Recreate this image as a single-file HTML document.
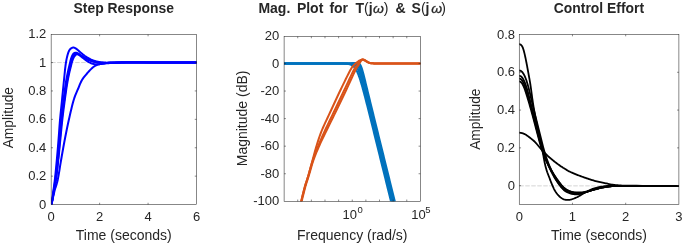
<!DOCTYPE html>
<html><head><meta charset="utf-8"><style>
html,body{margin:0;padding:0;background:#fff;width:685px;height:246px;overflow:hidden}
svg{display:block}
#w{will-change:transform}
text{font-family:"Liberation Sans",sans-serif}
</style></head><body><div id="w">
<svg width="685" height="246" viewBox="0 0 685 246" font-family="'Liberation Sans', sans-serif">
<defs>
<clipPath id="c1"><rect x="51.15" y="34.5" width="145.40" height="170.05"/></clipPath>
<clipPath id="c2"><rect x="284.1" y="36.45" width="136.30" height="164.90"/></clipPath>
<clipPath id="c3"><rect x="519.25" y="34.5" width="159.65" height="170.05"/></clipPath>
</defs>
<rect width="685" height="246" fill="#fff"/>
<line x1="51.15" y1="62.55" x2="196.55" y2="62.55" stroke="#d0d0d0" stroke-width="0.9" stroke-dasharray="4.5,1.5"/>
<text x="123.75000000000001" y="13.4" font-size="13.9" text-anchor="middle" font-weight="bold" fill="#262626" >Step Response</text>
<text x="123.75000000000001" y="240" font-size="14" text-anchor="middle" font-weight="normal" fill="#262626" >Time (seconds)</text>
<text x="0" y="0" font-size="13.8" text-anchor="middle" font-weight="normal" fill="#262626" transform="translate(13.3,117.7) rotate(-90)">Amplitude</text>
<text x="46.3" y="208.65" font-size="13" text-anchor="end" font-weight="normal" fill="#262626" >0</text>
<text x="46.3" y="180.25" font-size="13" text-anchor="end" font-weight="normal" fill="#262626" >0.2</text>
<text x="46.3" y="151.85" font-size="13" text-anchor="end" font-weight="normal" fill="#262626" >0.4</text>
<text x="46.3" y="123.45" font-size="13" text-anchor="end" font-weight="normal" fill="#262626" >0.6</text>
<text x="46.3" y="95.05" font-size="13" text-anchor="end" font-weight="normal" fill="#262626" >0.8</text>
<text x="46.3" y="66.65" font-size="13" text-anchor="end" font-weight="normal" fill="#262626" >1</text>
<text x="46.3" y="38.25000000000001" font-size="13" text-anchor="end" font-weight="normal" fill="#262626" >1.2</text>
<text x="51.15" y="221" font-size="13" text-anchor="middle" font-weight="normal" fill="#262626" >0</text>
<text x="99.61666666666667" y="221" font-size="13" text-anchor="middle" font-weight="normal" fill="#262626" >2</text>
<text x="148.08333333333334" y="221" font-size="13" text-anchor="middle" font-weight="normal" fill="#262626" >4</text>
<text x="196.55" y="221" font-size="13" text-anchor="middle" font-weight="normal" fill="#262626" >6</text>
<text x="0" y="0" font-size="14" text-anchor="middle" font-weight="normal" fill="#262626" transform="translate(246.8,118.4) rotate(-90)">Magnitude (dB)</text>
<text x="352.25" y="240" font-size="14" text-anchor="middle" font-weight="normal" fill="#262626" >Frequency (rad/s)</text>
<text x="279.3" y="40.04" font-size="13" text-anchor="end" font-weight="normal" fill="#262626" >20</text>
<text x="279.3" y="67.6" font-size="13" text-anchor="end" font-weight="normal" fill="#262626" >0</text>
<text x="279.3" y="95.16" font-size="13" text-anchor="end" font-weight="normal" fill="#262626" >-20</text>
<text x="279.3" y="122.72" font-size="13" text-anchor="end" font-weight="normal" fill="#262626" >-40</text>
<text x="279.3" y="150.28" font-size="13" text-anchor="end" font-weight="normal" fill="#262626" >-60</text>
<text x="279.3" y="177.84" font-size="13" text-anchor="end" font-weight="normal" fill="#262626" >-80</text>
<text x="279.3" y="205.39999999999998" font-size="13" text-anchor="end" font-weight="normal" fill="#262626" >-100</text>
<text x="352.65" y="219" font-size="13" text-anchor="middle" font-weight="normal" fill="#262626" >10<tspan font-size="9.5" dy="-6" dx="0.6">0</tspan></text>
<text x="420.79999999999995" y="219" font-size="13" text-anchor="middle" font-weight="normal" fill="#262626" >10<tspan font-size="9.5" dy="-6" dx="-0.5">5</tspan></text>
<text transform="translate(373.0,12.9) scale(1.0,0.86)" font-size="14" font-style="italic" fill="#262626" stroke="#262626" stroke-width="0.3">ω</text>
<text x="388.3" y="13.4" font-size="14" text-anchor="end" font-weight="normal" fill="#262626" >)</text>
<text transform="translate(431.3,12.9) scale(1.0,0.86)" font-size="14" font-style="italic" fill="#262626" stroke="#262626" stroke-width="0.3">ω</text>
<text x="446.0" y="13.4" font-size="14" text-anchor="end" font-weight="normal" fill="#262626" >)</text>
<text x="258.4" y="13.4" font-size="14" text-anchor="start" font-weight="bold" fill="#262626" >Mag.</text>
<text x="296.9" y="13.4" font-size="14" text-anchor="start" font-weight="bold" fill="#262626" >Plot</text>
<text x="329.4" y="13.4" font-size="14" text-anchor="start" font-weight="bold" fill="#262626" >for</text>
<text x="355.5" y="13.4" font-size="14" text-anchor="start" font-weight="bold" fill="#262626" >T<tspan font-weight="normal">(</tspan>j</text>
<text x="395.4" y="13.4" font-size="14" text-anchor="start" font-weight="bold" fill="#262626" >&amp;</text>
<text x="411.59999999999997" y="13.4" font-size="14" text-anchor="start" font-weight="bold" fill="#262626" >S<tspan font-weight="normal">(</tspan>j</text>
<line x1="519.25" y1="185.86" x2="678.9" y2="185.86" stroke="#d0d0d0" stroke-width="0.9" stroke-dasharray="4.5,1.5"/>
<text x="598.975" y="13.4" font-size="13.9" text-anchor="middle" font-weight="bold" fill="#262626" >Control Effort</text>
<text x="598.975" y="240" font-size="14" text-anchor="middle" font-weight="normal" fill="#262626" >Time (seconds)</text>
<text x="0" y="0" font-size="13.8" text-anchor="middle" font-weight="normal" fill="#262626" transform="translate(480.2,119.2) rotate(-90)">Amplitude</text>
<text x="515" y="189.75555555555556" font-size="13" text-anchor="end" font-weight="normal" fill="#262626" >0</text>
<text x="515" y="151.96666666666667" font-size="13" text-anchor="end" font-weight="normal" fill="#262626" >0.2</text>
<text x="515" y="114.17777777777778" font-size="13" text-anchor="end" font-weight="normal" fill="#262626" >0.4</text>
<text x="515" y="76.38888888888891" font-size="13" text-anchor="end" font-weight="normal" fill="#262626" >0.6</text>
<text x="515" y="38.6" font-size="13" text-anchor="end" font-weight="normal" fill="#262626" >0.8</text>
<text x="519.25" y="221" font-size="13" text-anchor="middle" font-weight="normal" fill="#262626" >0</text>
<text x="572.4666666666667" y="221" font-size="13" text-anchor="middle" font-weight="normal" fill="#262626" >1</text>
<text x="625.6833333333333" y="221" font-size="13" text-anchor="middle" font-weight="normal" fill="#262626" >2</text>
<text x="678.9" y="221" font-size="13" text-anchor="middle" font-weight="normal" fill="#262626" >3</text>
<path d="M51.50,204.50 L51.73,203.44 L52.03,202.02 L52.40,200.32 L52.80,198.44 L53.23,196.47 L53.67,194.52 L54.09,192.66 L54.50,191.00 L54.89,189.57 L55.28,188.29 L55.68,187.09 L56.07,185.91 L56.48,184.67 L56.88,183.32 L57.29,181.79 L57.70,180.00 L58.11,177.93 L58.53,175.63 L58.95,173.16 L59.38,170.56 L59.80,167.90 L60.23,165.21 L60.66,162.56 L61.10,160.00 L61.54,157.50 L61.97,155.00 L62.41,152.50 L62.86,150.00 L63.30,147.50 L63.76,145.00 L64.22,142.50 L64.70,140.00 L65.18,137.50 L65.67,135.00 L66.17,132.50 L66.67,130.00 L67.18,127.50 L67.71,125.00 L68.25,122.50 L68.80,120.00 L69.38,117.44 L69.98,114.79 L70.61,112.10 L71.24,109.44 L71.87,106.84 L72.50,104.37 L73.11,102.07 L73.70,100.00 L74.27,98.18 L74.82,96.57 L75.37,95.13 L75.91,93.81 L76.44,92.58 L76.96,91.40 L77.48,90.22 L78.00,89.00 L78.51,87.76 L79.00,86.55 L79.48,85.37 L79.96,84.22 L80.44,83.10 L80.94,82.03 L81.45,80.99 L82.00,80.00 L82.57,79.07 L83.16,78.19 L83.76,77.37 L84.38,76.58 L85.01,75.81 L85.66,75.05 L86.32,74.28 L87.00,73.50 L87.71,72.69 L88.45,71.85 L89.22,71.00 L90.00,70.16 L90.78,69.36 L91.55,68.60 L92.29,67.91 L93.00,67.30 L93.67,66.79 L94.30,66.35 L94.90,65.97 L95.50,65.64 L96.10,65.36 L96.70,65.09 L97.33,64.85 L98.00,64.60 L98.70,64.37 L99.43,64.16 L100.18,63.97 L100.94,63.81 L101.71,63.67 L102.48,63.54 L103.24,63.41 L104.00,63.30 L104.72,63.20 L105.41,63.11 L106.07,63.04 L106.75,62.98 L107.46,62.93 L108.22,62.89 L109.06,62.84 L110.00,62.80 L111.02,62.76 L112.10,62.73 L113.24,62.70 L114.44,62.67 L115.71,62.65 L117.05,62.63 L118.48,62.62 L120.00,62.60 L121.32,62.59 L122.31,62.58 L123.21,62.57 L124.27,62.56 L125.74,62.56 L127.86,62.56 L130.86,62.55 L135.00,62.55 L140.89,62.55 L148.57,62.55 L157.39,62.55 L166.74,62.55 L175.96,62.55 L184.44,62.55 L191.53,62.55 L196.60,62.55" fill="none" stroke="#0000ff" stroke-width="2.0" stroke-linejoin="round" stroke-linecap="round" clip-path="url(#c1)"/>
<path d="M51.50,204.50 L51.85,202.58 L52.34,199.99 L52.92,196.91 L53.55,193.50 L54.20,189.93 L54.84,186.38 L55.42,183.01 L55.90,180.00 L56.30,177.28 L56.65,174.68 L56.96,172.17 L57.25,169.72 L57.52,167.30 L57.77,164.89 L58.03,162.47 L58.30,160.00 L58.57,157.50 L58.83,155.00 L59.08,152.50 L59.32,150.00 L59.57,147.50 L59.81,145.00 L60.05,142.50 L60.30,140.00 L60.55,137.50 L60.79,135.00 L61.03,132.50 L61.27,130.00 L61.51,127.50 L61.76,125.00 L62.03,122.50 L62.30,120.00 L62.59,117.50 L62.88,115.00 L63.18,112.50 L63.49,110.00 L63.80,107.50 L64.13,105.00 L64.46,102.50 L64.80,100.00 L65.15,97.47 L65.51,94.88 L65.87,92.28 L66.24,89.69 L66.62,87.13 L67.01,84.65 L67.40,82.26 L67.80,80.00 L68.22,77.82 L68.66,75.69 L69.12,73.61 L69.58,71.62 L70.02,69.75 L70.45,68.00 L70.85,66.41 L71.20,65.00 L71.50,63.80 L71.76,62.80 L71.99,61.97 L72.20,61.26 L72.40,60.65 L72.59,60.09 L72.79,59.55 L73.00,59.00 L73.22,58.45 L73.45,57.96 L73.67,57.52 L73.89,57.12 L74.11,56.75 L74.34,56.41 L74.57,56.10 L74.80,55.80 L75.04,55.52 L75.28,55.25 L75.53,55.02 L75.78,54.81 L76.03,54.63 L76.28,54.48 L76.54,54.37 L76.80,54.30 L77.06,54.27 L77.31,54.28 L77.55,54.32 L77.81,54.39 L78.07,54.50 L78.35,54.64 L78.66,54.81 L79.00,55.00 L79.37,55.23 L79.75,55.49 L80.15,55.79 L80.58,56.11 L81.02,56.46 L81.49,56.83 L81.98,57.21 L82.50,57.60 L83.05,58.02 L83.64,58.48 L84.27,58.96 L84.91,59.46 L85.56,59.96 L86.21,60.44 L86.86,60.89 L87.50,61.30 L88.13,61.67 L88.76,62.03 L89.40,62.37 L90.03,62.69 L90.66,62.99 L91.29,63.26 L91.90,63.50 L92.50,63.70 L93.08,63.87 L93.65,64.00 L94.20,64.10 L94.75,64.17 L95.30,64.23 L95.85,64.26 L96.42,64.29 L97.00,64.30 L97.59,64.30 L98.19,64.28 L98.79,64.24 L99.41,64.18 L100.03,64.12 L100.67,64.04 L101.32,63.97 L102.00,63.90 L102.70,63.83 L103.41,63.74 L104.13,63.65 L104.88,63.55 L105.63,63.46 L106.41,63.36 L107.20,63.28 L108.00,63.20 L108.81,63.13 L109.61,63.06 L110.42,63.00 L111.25,62.94 L112.11,62.89 L113.02,62.84 L113.97,62.79 L115.00,62.75 L115.69,62.71 L115.85,62.68 L115.82,62.66 L115.96,62.64 L116.61,62.62 L118.10,62.61 L120.78,62.59 L125.00,62.58 L131.49,62.57 L140.25,62.56 L150.48,62.56 L161.43,62.55 L172.29,62.55 L182.29,62.55 L190.66,62.55 L196.60,62.55" fill="none" stroke="#0000ff" stroke-width="2.0" stroke-linejoin="round" stroke-linecap="round" clip-path="url(#c1)"/>
<path d="M51.50,204.50 L51.84,202.58 L52.30,199.99 L52.85,196.91 L53.46,193.50 L54.08,189.93 L54.69,186.38 L55.24,183.01 L55.70,180.00 L56.08,177.28 L56.42,174.68 L56.72,172.17 L57.00,169.72 L57.26,167.30 L57.50,164.89 L57.75,162.47 L58.00,160.00 L58.25,157.50 L58.48,155.00 L58.71,152.50 L58.92,150.00 L59.14,147.50 L59.35,145.00 L59.57,142.50 L59.80,140.00 L60.03,137.50 L60.25,135.00 L60.48,132.50 L60.71,130.00 L60.94,127.50 L61.18,125.00 L61.43,122.50 L61.70,120.00 L61.98,117.50 L62.27,115.00 L62.57,112.50 L62.88,110.00 L63.20,107.50 L63.53,105.00 L63.86,102.50 L64.20,100.00 L64.55,97.47 L64.91,94.88 L65.28,92.28 L65.65,89.69 L66.03,87.13 L66.42,84.65 L66.81,82.26 L67.20,80.00 L67.61,77.83 L68.04,75.70 L68.48,73.64 L68.93,71.66 L69.36,69.78 L69.77,68.04 L70.16,66.43 L70.50,65.00 L70.80,63.76 L71.06,62.70 L71.29,61.80 L71.50,61.02 L71.70,60.33 L71.89,59.70 L72.09,59.10 L72.30,58.50 L72.52,57.92 L72.72,57.41 L72.93,56.95 L73.14,56.54 L73.34,56.17 L73.56,55.83 L73.77,55.51 L74.00,55.20 L74.23,54.90 L74.47,54.63 L74.71,54.39 L74.95,54.17 L75.20,53.98 L75.46,53.82 L75.72,53.69 L76.00,53.60 L76.28,53.54 L76.57,53.52 L76.86,53.52 L77.16,53.56 L77.47,53.63 L77.79,53.73 L78.14,53.85 L78.50,54.00 L78.88,54.18 L79.27,54.40 L79.67,54.65 L80.09,54.93 L80.53,55.23 L81.00,55.54 L81.48,55.87 L82.00,56.20 L82.55,56.55 L83.14,56.94 L83.77,57.34 L84.41,57.76 L85.06,58.18 L85.71,58.58 L86.36,58.96 L87.00,59.30 L87.62,59.61 L88.23,59.90 L88.83,60.17 L89.44,60.42 L90.05,60.66 L90.68,60.88 L91.33,61.10 L92.00,61.30 L92.70,61.49 L93.43,61.67 L94.18,61.84 L94.94,62.00 L95.71,62.14 L96.48,62.27 L97.24,62.39 L98.00,62.50 L98.74,62.59 L99.45,62.67 L100.16,62.73 L100.88,62.78 L101.60,62.83 L102.36,62.86 L103.15,62.88 L104.00,62.90 L104.89,62.91 L105.81,62.90 L106.77,62.88 L107.75,62.86 L108.77,62.83 L109.81,62.80 L110.89,62.77 L112.00,62.75 L113.13,62.73 L114.29,62.71 L115.47,62.69 L116.69,62.67 L117.94,62.65 L119.24,62.63 L120.59,62.61 L122.00,62.60 L123.15,62.59 L123.90,62.58 L124.52,62.57 L125.27,62.57 L126.43,62.56 L128.26,62.56 L131.03,62.55 L135.00,62.55 L140.80,62.55 L148.43,62.55 L157.25,62.55 L166.61,62.55 L175.88,62.55 L184.39,62.55 L191.52,62.55 L196.60,62.55" fill="none" stroke="#0000ff" stroke-width="2.0" stroke-linejoin="round" stroke-linecap="round" clip-path="url(#c1)"/>
<path d="M51.50,204.50 L51.80,202.58 L52.22,199.99 L52.72,196.91 L53.26,193.50 L53.83,189.93 L54.37,186.38 L54.88,183.01 L55.30,180.00 L55.65,177.28 L55.97,174.68 L56.26,172.17 L56.52,169.72 L56.77,167.30 L57.02,164.89 L57.26,162.47 L57.50,160.00 L57.74,157.50 L57.98,155.00 L58.20,152.50 L58.42,150.00 L58.64,147.50 L58.85,145.00 L59.07,142.50 L59.30,140.00 L59.53,137.50 L59.76,135.00 L59.99,132.50 L60.22,130.00 L60.45,127.50 L60.69,125.00 L60.94,122.50 L61.20,120.00 L61.46,117.50 L61.74,115.00 L62.01,112.50 L62.29,110.00 L62.58,107.50 L62.88,105.00 L63.19,102.50 L63.50,100.00 L63.82,97.47 L64.16,94.88 L64.50,92.28 L64.84,89.69 L65.20,87.13 L65.56,84.65 L65.93,82.26 L66.30,80.00 L66.69,77.83 L67.10,75.71 L67.53,73.66 L67.96,71.69 L68.38,69.82 L68.79,68.07 L69.16,66.46 L69.50,65.00 L69.79,63.72 L70.05,62.61 L70.28,61.64 L70.49,60.79 L70.69,60.03 L70.89,59.33 L71.09,58.66 L71.30,58.00 L71.52,57.36 L71.72,56.79 L71.93,56.27 L72.14,55.81 L72.34,55.38 L72.56,54.99 L72.77,54.63 L73.00,54.30 L73.23,53.99 L73.47,53.73 L73.71,53.49 L73.95,53.29 L74.20,53.13 L74.46,52.99 L74.72,52.88 L75.00,52.80 L75.28,52.75 L75.57,52.72 L75.86,52.73 L76.16,52.76 L76.47,52.83 L76.79,52.92 L77.14,53.05 L77.50,53.20 L77.88,53.39 L78.27,53.62 L78.67,53.89 L79.09,54.19 L79.53,54.50 L80.00,54.83 L80.48,55.17 L81.00,55.50 L81.55,55.84 L82.12,56.21 L82.72,56.60 L83.34,56.99 L83.99,57.38 L84.64,57.77 L85.32,58.14 L86.00,58.50 L86.70,58.84 L87.43,59.19 L88.18,59.52 L88.94,59.85 L89.71,60.17 L90.48,60.46 L91.24,60.74 L92.00,61.00 L92.75,61.23 L93.50,61.45 L94.25,61.65 L95.00,61.83 L95.75,61.99 L96.50,62.14 L97.25,62.28 L98.00,62.40 L98.75,62.51 L99.50,62.60 L100.25,62.68 L101.00,62.74 L101.75,62.80 L102.50,62.84 L103.25,62.87 L104.00,62.90 L104.72,62.92 L105.41,62.92 L106.07,62.92 L106.75,62.90 L107.46,62.88 L108.22,62.85 L109.06,62.83 L110.00,62.80 L111.02,62.77 L112.10,62.74 L113.24,62.70 L114.44,62.65 L115.71,62.61 L117.05,62.57 L118.48,62.53 L120.00,62.50 L121.32,62.47 L122.31,62.44 L123.21,62.42 L124.27,62.39 L125.74,62.37 L127.86,62.36 L130.86,62.35 L135.00,62.35 L140.89,62.36 L148.57,62.38 L157.39,62.41 L166.74,62.44 L175.96,62.47 L184.44,62.51 L191.53,62.53 L196.60,62.55" fill="none" stroke="#0000ff" stroke-width="2.0" stroke-linejoin="round" stroke-linecap="round" clip-path="url(#c1)"/>
<path d="M51.50,204.50 L51.76,202.58 L52.12,199.99 L52.55,196.91 L53.02,193.50 L53.51,189.93 L53.99,186.38 L54.43,183.01 L54.80,180.00 L55.11,177.28 L55.40,174.68 L55.66,172.17 L55.90,169.72 L56.13,167.30 L56.35,164.89 L56.57,162.47 L56.80,160.00 L57.03,157.50 L57.25,155.00 L57.47,152.50 L57.68,150.00 L57.89,147.50 L58.10,145.00 L58.30,142.50 L58.50,140.00 L58.69,137.50 L58.88,135.00 L59.06,132.50 L59.23,130.00 L59.41,127.50 L59.59,125.00 L59.79,122.50 L60.00,120.00 L60.23,117.50 L60.46,115.00 L60.71,112.50 L60.97,110.00 L61.23,107.50 L61.49,105.00 L61.75,102.50 L62.00,100.00 L62.25,97.47 L62.51,94.88 L62.77,92.28 L63.02,89.69 L63.28,87.13 L63.53,84.65 L63.77,82.26 L64.00,80.00 L64.22,77.84 L64.43,75.76 L64.62,73.75 L64.82,71.81 L65.01,69.97 L65.20,68.21 L65.40,66.55 L65.60,65.00 L65.80,63.57 L66.01,62.26 L66.21,61.05 L66.41,59.94 L66.62,58.89 L66.84,57.90 L67.06,56.94 L67.30,56.00 L67.54,55.08 L67.79,54.20 L68.04,53.37 L68.30,52.59 L68.57,51.85 L68.86,51.18 L69.17,50.56 L69.50,50.00 L69.86,49.50 L70.25,49.07 L70.66,48.69 L71.09,48.36 L71.52,48.09 L71.96,47.88 L72.38,47.71 L72.80,47.60 L73.20,47.55 L73.59,47.55 L73.97,47.62 L74.36,47.74 L74.75,47.90 L75.15,48.10 L75.56,48.34 L76.00,48.60 L76.45,48.91 L76.92,49.27 L77.40,49.67 L77.89,50.11 L78.39,50.58 L78.91,51.05 L79.45,51.53 L80.00,52.00 L80.58,52.48 L81.18,52.98 L81.80,53.50 L82.44,54.02 L83.08,54.55 L83.73,55.06 L84.37,55.54 L85.00,56.00 L85.62,56.43 L86.25,56.84 L86.88,57.24 L87.50,57.62 L88.12,57.99 L88.75,58.34 L89.38,58.68 L90.00,59.00 L90.62,59.30 L91.25,59.59 L91.88,59.86 L92.50,60.11 L93.12,60.35 L93.75,60.58 L94.38,60.80 L95.00,61.00 L95.62,61.19 L96.25,61.38 L96.88,61.54 L97.50,61.70 L98.12,61.84 L98.75,61.98 L99.38,62.09 L100.00,62.20 L100.61,62.29 L101.20,62.37 L101.79,62.43 L102.38,62.48 L102.98,62.51 L103.61,62.55 L104.28,62.57 L105.00,62.60 L105.77,62.62 L106.59,62.63 L107.43,62.64 L108.31,62.64 L109.21,62.63 L110.13,62.62 L111.06,62.61 L112.00,62.60 L112.94,62.58 L113.88,62.56 L114.84,62.54 L115.81,62.51 L116.81,62.48 L117.84,62.45 L118.90,62.42 L120.00,62.40 L120.77,62.38 L121.03,62.36 L121.12,62.34 L121.34,62.32 L122.02,62.31 L123.47,62.30 L126.03,62.30 L130.00,62.30 L136.07,62.32 L144.23,62.34 L153.76,62.38 L163.93,62.42 L174.02,62.46 L183.31,62.50 L191.07,62.53 L196.60,62.55" fill="none" stroke="#0000ff" stroke-width="2.0" stroke-linejoin="round" stroke-linecap="round" clip-path="url(#c1)"/>
<path d="M284.10,63.50 L284.35,63.50 L284.60,63.50 L284.85,63.50 L285.10,63.50 L285.35,63.50 L285.60,63.50 L285.85,63.50 L286.10,63.50 L286.35,63.50 L286.60,63.50 L286.85,63.50 L287.10,63.50 L287.35,63.50 L287.60,63.50 L287.85,63.50 L288.10,63.50 L288.35,63.50 L288.60,63.50 L288.85,63.50 L289.10,63.50 L289.35,63.50 L289.60,63.50 L289.85,63.50 L290.10,63.50 L290.35,63.50 L290.60,63.50 L290.85,63.50 L291.10,63.50 L291.35,63.50 L291.60,63.50 L291.85,63.50 L292.10,63.50 L292.35,63.50 L292.60,63.50 L292.85,63.50 L293.10,63.50 L293.35,63.50 L293.60,63.50 L293.85,63.50 L294.10,63.50 L294.35,63.50 L294.60,63.50 L294.85,63.50 L295.10,63.50 L295.35,63.50 L295.60,63.50 L295.85,63.50 L296.10,63.50 L296.35,63.50 L296.60,63.50 L296.85,63.50 L297.10,63.50 L297.35,63.50 L297.60,63.50 L297.85,63.50 L298.10,63.50 L298.35,63.50 L298.60,63.50 L298.85,63.50 L299.10,63.50 L299.35,63.50 L299.60,63.50 L299.85,63.50 L300.10,63.50 L300.35,63.50 L300.60,63.50 L300.85,63.50 L301.10,63.50 L301.35,63.50 L301.60,63.50 L301.85,63.50 L302.10,63.50 L302.35,63.50 L302.60,63.50 L302.85,63.50 L303.10,63.50 L303.35,63.50 L303.60,63.50 L303.85,63.50 L304.10,63.50 L304.35,63.50 L304.60,63.50 L304.85,63.50 L305.10,63.50 L305.35,63.50 L305.60,63.50 L305.85,63.50 L306.10,63.50 L306.35,63.50 L306.60,63.50 L306.85,63.50 L307.10,63.50 L307.35,63.50 L307.60,63.50 L307.85,63.50 L308.10,63.50 L308.35,63.50 L308.60,63.50 L308.85,63.50 L309.10,63.50 L309.35,63.50 L309.60,63.50 L309.85,63.50 L310.10,63.50 L310.35,63.50 L310.60,63.50 L310.85,63.50 L311.10,63.50 L311.35,63.50 L311.60,63.50 L311.85,63.50 L312.10,63.50 L312.35,63.50 L312.60,63.50 L312.85,63.50 L313.10,63.50 L313.35,63.50 L313.60,63.50 L313.85,63.50 L314.10,63.50 L314.35,63.50 L314.60,63.50 L314.85,63.50 L315.10,63.50 L315.35,63.50 L315.60,63.50 L315.85,63.50 L316.10,63.50 L316.35,63.50 L316.60,63.50 L316.85,63.50 L317.10,63.50 L317.35,63.50 L317.60,63.50 L317.85,63.50 L318.10,63.50 L318.35,63.50 L318.60,63.50 L318.85,63.50 L319.10,63.50 L319.35,63.50 L319.60,63.50 L319.85,63.50 L320.10,63.50 L320.35,63.50 L320.60,63.50 L320.85,63.50 L321.10,63.50 L321.35,63.50 L321.60,63.50 L321.85,63.50 L322.10,63.50 L322.35,63.50 L322.60,63.50 L322.85,63.50 L323.10,63.50 L323.35,63.50 L323.60,63.50 L323.85,63.50 L324.10,63.50 L324.35,63.50 L324.60,63.50 L324.85,63.50 L325.10,63.50 L325.35,63.50 L325.60,63.50 L325.85,63.50 L326.10,63.50 L326.35,63.50 L326.60,63.50 L326.85,63.50 L327.10,63.50 L327.35,63.50 L327.60,63.50 L327.85,63.50 L328.10,63.50 L328.35,63.50 L328.60,63.50 L328.85,63.50 L329.10,63.50 L329.35,63.50 L329.60,63.50 L329.85,63.50 L330.10,63.50 L330.35,63.50 L330.60,63.50 L330.85,63.50 L331.10,63.50 L331.35,63.50 L331.60,63.50 L331.85,63.50 L332.10,63.50 L332.35,63.50 L332.60,63.50 L332.85,63.50 L333.10,63.50 L333.35,63.50 L333.60,63.50 L333.85,63.50 L334.10,63.50 L334.35,63.50 L334.60,63.51 L334.85,63.51 L335.10,63.51 L335.35,63.51 L335.60,63.51 L335.85,63.51 L336.10,63.51 L336.35,63.51 L336.60,63.51 L336.85,63.51 L337.10,63.51 L337.35,63.51 L337.60,63.51 L337.85,63.52 L338.10,63.52 L338.35,63.52 L338.60,63.52 L338.85,63.52 L339.10,63.52 L339.35,63.53 L339.60,63.53 L339.85,63.53 L340.10,63.53 L340.35,63.54 L340.60,63.54 L340.85,63.54 L341.10,63.55 L341.35,63.55 L341.60,63.56 L341.85,63.56 L342.10,63.57 L342.35,63.57 L342.60,63.58 L342.85,63.58 L343.10,63.59 L343.35,63.60 L343.60,63.61 L343.85,63.62 L344.10,63.63 L344.35,63.64 L344.60,63.65 L344.85,63.66 L345.10,63.68 L345.35,63.69 L345.60,63.71 L345.85,63.73 L346.10,63.75 L346.35,63.77 L346.60,63.80 L346.85,63.82 L347.10,63.85 L347.35,63.88 L347.60,63.91 L347.85,63.95 L348.10,63.99 L348.35,64.03 L348.60,64.08 L348.85,64.13 L349.10,64.18 L349.35,64.24 L349.60,64.31 L349.85,64.38 L350.10,64.45 L350.35,64.54 L350.60,64.63 L350.85,64.72 L351.10,64.83 L351.35,64.94 L351.60,65.06 L351.85,65.19 L352.10,65.34 L352.35,65.49 L352.60,65.66 L352.85,65.84 L353.10,66.03 L353.35,66.24 L353.60,66.46 L353.85,66.70 L354.10,66.95 L354.35,67.23 L354.60,67.52 L354.85,67.83 L355.10,68.17 L355.35,68.52 L355.60,68.89 L355.85,69.29 L356.10,69.71 L356.35,70.16 L356.60,70.62 L356.85,71.11 L357.10,71.63 L357.35,72.17 L357.60,72.73 L357.85,73.31 L358.10,73.92 L358.35,74.55 L358.60,75.20 L358.85,75.87 L359.10,76.56 L359.35,77.28 L359.60,78.01 L359.85,78.76 L360.10,79.53 L360.35,80.31 L360.60,81.11 L360.85,81.92 L361.10,82.75 L361.35,83.59 L361.60,84.45 L361.85,85.31 L362.10,86.19 L362.35,87.08 L362.60,87.97 L362.85,88.88 L363.10,89.79 L363.35,90.71 L363.60,91.64 L363.85,92.57 L364.10,93.51 L364.35,94.45 L364.60,95.40 L364.85,96.36 L365.10,97.32 L365.35,98.28 L365.60,99.25 L365.85,100.22 L366.10,101.19 L366.35,102.17 L366.60,103.15 L366.85,104.13 L367.10,105.12 L367.35,106.10 L367.60,107.09 L367.85,108.08 L368.10,109.07 L368.35,110.07 L368.60,111.06 L368.85,112.06 L369.10,113.06 L369.35,114.05 L369.60,115.05 L369.85,116.05 L370.10,117.06 L370.35,118.06 L370.60,119.06 L370.85,120.06 L371.10,121.07 L371.35,122.07 L371.60,123.08 L371.85,124.08 L372.10,125.09 L372.35,126.10 L372.60,127.10 L372.85,128.11 L373.10,129.12 L373.35,130.12 L373.60,131.13 L373.85,132.14 L374.10,133.15 L374.35,134.16 L374.60,135.17 L374.85,136.18 L375.10,137.19 L375.35,138.19 L375.60,139.20 L375.85,140.21 L376.10,141.22 L376.35,142.23 L376.60,143.24 L376.85,144.25 L377.10,145.26 L377.35,146.27 L377.60,147.28 L377.85,148.29 L378.10,149.30 L378.35,150.31 L378.60,151.33 L378.85,152.34 L379.10,153.35 L379.35,154.36 L379.60,155.37 L379.85,156.38 L380.10,157.39 L380.35,158.40 L380.60,159.41 L380.85,160.42 L381.10,161.43 L381.35,162.44 L381.60,163.45 L381.85,164.46 L382.10,165.48 L382.35,166.49 L382.60,167.50 L382.85,168.51 L383.10,169.52 L383.35,170.53 L383.60,171.54 L383.85,172.55 L384.10,173.56 L384.35,174.57 L384.60,175.58 L384.85,176.60 L385.10,177.61 L385.35,178.62 L385.60,179.63 L385.85,180.64 L386.10,181.65 L386.35,182.66 L386.60,183.67 L386.85,184.68 L387.10,185.69 L387.35,186.70 L387.60,187.72 L387.85,188.73 L388.10,189.74 L388.35,190.75 L388.60,191.76 L388.85,192.77 L389.10,193.78 L389.35,194.79 L389.60,195.80 L389.85,196.81 L390.10,197.83 L390.35,198.84 L390.60,199.85 L390.85,200.86 L391.10,201.87 L391.35,202.88 L391.60,203.89 L391.85,204.90" fill="none" stroke="#0072bd" stroke-width="2.0" stroke-linejoin="round" stroke-linecap="round" clip-path="url(#c2)"/>
<path d="M284.10,63.50 L284.35,63.50 L284.60,63.50 L284.85,63.50 L285.10,63.50 L285.35,63.50 L285.60,63.50 L285.85,63.50 L286.10,63.50 L286.35,63.50 L286.60,63.50 L286.85,63.50 L287.10,63.50 L287.35,63.50 L287.60,63.50 L287.85,63.50 L288.10,63.50 L288.35,63.50 L288.60,63.50 L288.85,63.50 L289.10,63.50 L289.35,63.50 L289.60,63.50 L289.85,63.50 L290.10,63.50 L290.35,63.50 L290.60,63.50 L290.85,63.50 L291.10,63.50 L291.35,63.50 L291.60,63.50 L291.85,63.50 L292.10,63.50 L292.35,63.50 L292.60,63.50 L292.85,63.50 L293.10,63.50 L293.35,63.50 L293.60,63.50 L293.85,63.50 L294.10,63.50 L294.35,63.50 L294.60,63.50 L294.85,63.50 L295.10,63.50 L295.35,63.50 L295.60,63.50 L295.85,63.50 L296.10,63.50 L296.35,63.50 L296.60,63.50 L296.85,63.50 L297.10,63.50 L297.35,63.50 L297.60,63.50 L297.85,63.50 L298.10,63.50 L298.35,63.50 L298.60,63.50 L298.85,63.50 L299.10,63.50 L299.35,63.50 L299.60,63.50 L299.85,63.50 L300.10,63.50 L300.35,63.50 L300.60,63.50 L300.85,63.50 L301.10,63.50 L301.35,63.50 L301.60,63.50 L301.85,63.50 L302.10,63.50 L302.35,63.50 L302.60,63.50 L302.85,63.50 L303.10,63.50 L303.35,63.50 L303.60,63.50 L303.85,63.50 L304.10,63.50 L304.35,63.50 L304.60,63.50 L304.85,63.50 L305.10,63.50 L305.35,63.50 L305.60,63.50 L305.85,63.50 L306.10,63.50 L306.35,63.50 L306.60,63.50 L306.85,63.50 L307.10,63.50 L307.35,63.50 L307.60,63.50 L307.85,63.50 L308.10,63.50 L308.35,63.50 L308.60,63.50 L308.85,63.50 L309.10,63.50 L309.35,63.50 L309.60,63.50 L309.85,63.50 L310.10,63.50 L310.35,63.50 L310.60,63.50 L310.85,63.50 L311.10,63.50 L311.35,63.50 L311.60,63.50 L311.85,63.50 L312.10,63.50 L312.35,63.50 L312.60,63.50 L312.85,63.50 L313.10,63.50 L313.35,63.50 L313.60,63.50 L313.85,63.50 L314.10,63.50 L314.35,63.50 L314.60,63.50 L314.85,63.50 L315.10,63.50 L315.35,63.50 L315.60,63.50 L315.85,63.50 L316.10,63.50 L316.35,63.50 L316.60,63.50 L316.85,63.50 L317.10,63.50 L317.35,63.50 L317.60,63.50 L317.85,63.50 L318.10,63.50 L318.35,63.50 L318.60,63.50 L318.85,63.50 L319.10,63.50 L319.35,63.50 L319.60,63.50 L319.85,63.50 L320.10,63.50 L320.35,63.50 L320.60,63.50 L320.85,63.50 L321.10,63.50 L321.35,63.50 L321.60,63.50 L321.85,63.50 L322.10,63.50 L322.35,63.50 L322.60,63.50 L322.85,63.50 L323.10,63.50 L323.35,63.50 L323.60,63.50 L323.85,63.50 L324.10,63.50 L324.35,63.50 L324.60,63.50 L324.85,63.50 L325.10,63.50 L325.35,63.50 L325.60,63.50 L325.85,63.50 L326.10,63.50 L326.35,63.50 L326.60,63.50 L326.85,63.50 L327.10,63.50 L327.35,63.50 L327.60,63.50 L327.85,63.50 L328.10,63.50 L328.35,63.50 L328.60,63.50 L328.85,63.50 L329.10,63.50 L329.35,63.50 L329.60,63.50 L329.85,63.50 L330.10,63.50 L330.35,63.50 L330.60,63.50 L330.85,63.50 L331.10,63.50 L331.35,63.50 L331.60,63.50 L331.85,63.50 L332.10,63.50 L332.35,63.50 L332.60,63.50 L332.85,63.50 L333.10,63.50 L333.35,63.50 L333.60,63.50 L333.85,63.50 L334.10,63.50 L334.35,63.50 L334.60,63.50 L334.85,63.50 L335.10,63.50 L335.35,63.50 L335.60,63.50 L335.85,63.50 L336.10,63.50 L336.35,63.50 L336.60,63.50 L336.85,63.50 L337.10,63.50 L337.35,63.50 L337.60,63.50 L337.85,63.50 L338.10,63.50 L338.35,63.50 L338.60,63.51 L338.85,63.51 L339.10,63.51 L339.35,63.51 L339.60,63.51 L339.85,63.51 L340.10,63.51 L340.35,63.51 L340.60,63.51 L340.85,63.51 L341.10,63.51 L341.35,63.51 L341.60,63.51 L341.85,63.52 L342.10,63.52 L342.35,63.52 L342.60,63.52 L342.85,63.52 L343.10,63.52 L343.35,63.53 L343.60,63.53 L343.85,63.53 L344.10,63.53 L344.35,63.54 L344.60,63.54 L344.85,63.54 L345.10,63.55 L345.35,63.55 L345.60,63.55 L345.85,63.56 L346.10,63.57 L346.35,63.57 L346.60,63.58 L346.85,63.58 L347.10,63.59 L347.35,63.60 L347.60,63.61 L347.85,63.62 L348.10,63.63 L348.35,63.64 L348.60,63.66 L348.85,63.67 L349.10,63.69 L349.35,63.71 L349.60,63.73 L349.85,63.75 L350.10,63.77 L350.35,63.80 L350.60,63.83 L350.85,63.86 L351.10,63.89 L351.35,63.93 L351.60,63.98 L351.85,64.02 L352.10,64.08 L352.35,64.14 L352.60,64.20 L352.85,64.27 L353.10,64.36 L353.35,64.45 L353.60,64.54 L353.85,64.66 L354.10,64.78 L354.35,64.92 L354.60,65.07 L354.85,65.24 L355.10,65.42 L355.35,65.63 L355.60,65.86 L355.85,66.11 L356.10,66.39 L356.35,66.69 L356.60,67.02 L356.85,67.38 L357.10,67.78 L357.35,68.20 L357.60,68.66 L357.85,69.15 L358.10,69.67 L358.35,70.23 L358.60,70.82 L358.85,71.44 L359.10,72.09 L359.35,72.78 L359.60,73.49 L359.85,74.22 L360.10,74.98 L360.35,75.77 L360.60,76.57 L360.85,77.40 L361.10,78.24 L361.35,79.10 L361.60,79.98 L361.85,80.87 L362.10,81.77 L362.35,82.68 L362.60,83.60 L362.85,84.53 L363.10,85.47 L363.35,86.42 L363.60,87.37 L363.85,88.33 L364.10,89.29 L364.35,90.26 L364.60,91.23 L364.85,92.21 L365.10,93.19 L365.35,94.17 L365.60,95.16 L365.85,96.14 L366.10,97.13 L366.35,98.13 L366.60,99.12 L366.85,100.11 L367.10,101.11 L367.35,102.11 L367.60,103.11 L367.85,104.11 L368.10,105.11 L368.35,106.11 L368.60,107.11 L368.85,108.12 L369.10,109.12 L369.35,110.12 L369.60,111.13 L369.85,112.13 L370.10,113.14 L370.35,114.15 L370.60,115.15 L370.85,116.16 L371.10,117.17 L371.35,118.18 L371.60,119.19 L371.85,120.19 L372.10,121.20 L372.35,122.21 L372.60,123.22 L372.85,124.23 L373.10,125.24 L373.35,126.25 L373.60,127.26 L373.85,128.27 L374.10,129.28 L374.35,130.29 L374.60,131.30 L374.85,132.31 L375.10,133.32 L375.35,134.33 L375.60,135.34 L375.85,136.35 L376.10,137.36 L376.35,138.37 L376.60,139.38 L376.85,140.39 L377.10,141.40 L377.35,142.41 L377.60,143.42 L377.85,144.43 L378.10,145.44 L378.35,146.45 L378.60,147.46 L378.85,148.47 L379.10,149.49 L379.35,150.50 L379.60,151.51 L379.85,152.52 L380.10,153.53 L380.35,154.54 L380.60,155.55 L380.85,156.56 L381.10,157.57 L381.35,158.58 L381.60,159.59 L381.85,160.60 L382.10,161.62 L382.35,162.63 L382.60,163.64 L382.85,164.65 L383.10,165.66 L383.35,166.67 L383.60,167.68 L383.85,168.69 L384.10,169.70 L384.35,170.71 L384.60,171.73 L384.85,172.74 L385.10,173.75 L385.35,174.76 L385.60,175.77 L385.85,176.78 L386.10,177.79 L386.35,178.80 L386.60,179.81 L386.85,180.82 L387.10,181.84 L387.35,182.85 L387.60,183.86 L387.85,184.87 L388.10,185.88 L388.35,186.89 L388.60,187.90 L388.85,188.91 L389.10,189.92 L389.35,190.93 L389.60,191.95 L389.85,192.96 L390.10,193.97 L390.35,194.98 L390.60,195.99 L390.85,197.00 L391.10,198.01 L391.35,199.02 L391.60,200.03 L391.85,201.04 L392.10,202.06 L392.35,203.07 L392.60,204.08 L392.85,205.09" fill="none" stroke="#0072bd" stroke-width="2.0" stroke-linejoin="round" stroke-linecap="round" clip-path="url(#c2)"/>
<path d="M284.10,63.50 L284.35,63.50 L284.60,63.50 L284.85,63.50 L285.10,63.50 L285.35,63.50 L285.60,63.50 L285.85,63.50 L286.10,63.50 L286.35,63.50 L286.60,63.50 L286.85,63.50 L287.10,63.50 L287.35,63.50 L287.60,63.50 L287.85,63.50 L288.10,63.50 L288.35,63.50 L288.60,63.50 L288.85,63.50 L289.10,63.50 L289.35,63.50 L289.60,63.50 L289.85,63.50 L290.10,63.50 L290.35,63.50 L290.60,63.50 L290.85,63.50 L291.10,63.50 L291.35,63.50 L291.60,63.50 L291.85,63.50 L292.10,63.50 L292.35,63.50 L292.60,63.50 L292.85,63.50 L293.10,63.50 L293.35,63.50 L293.60,63.50 L293.85,63.50 L294.10,63.50 L294.35,63.50 L294.60,63.50 L294.85,63.50 L295.10,63.50 L295.35,63.50 L295.60,63.50 L295.85,63.50 L296.10,63.50 L296.35,63.50 L296.60,63.50 L296.85,63.50 L297.10,63.50 L297.35,63.50 L297.60,63.50 L297.85,63.50 L298.10,63.50 L298.35,63.50 L298.60,63.50 L298.85,63.50 L299.10,63.50 L299.35,63.50 L299.60,63.50 L299.85,63.50 L300.10,63.50 L300.35,63.50 L300.60,63.50 L300.85,63.50 L301.10,63.50 L301.35,63.50 L301.60,63.50 L301.85,63.50 L302.10,63.50 L302.35,63.50 L302.60,63.50 L302.85,63.50 L303.10,63.50 L303.35,63.50 L303.60,63.50 L303.85,63.50 L304.10,63.50 L304.35,63.50 L304.60,63.50 L304.85,63.50 L305.10,63.50 L305.35,63.50 L305.60,63.50 L305.85,63.50 L306.10,63.50 L306.35,63.50 L306.60,63.50 L306.85,63.50 L307.10,63.50 L307.35,63.50 L307.60,63.50 L307.85,63.50 L308.10,63.50 L308.35,63.50 L308.60,63.50 L308.85,63.50 L309.10,63.50 L309.35,63.50 L309.60,63.50 L309.85,63.50 L310.10,63.50 L310.35,63.50 L310.60,63.50 L310.85,63.50 L311.10,63.50 L311.35,63.50 L311.60,63.50 L311.85,63.50 L312.10,63.50 L312.35,63.50 L312.60,63.50 L312.85,63.50 L313.10,63.50 L313.35,63.50 L313.60,63.50 L313.85,63.50 L314.10,63.50 L314.35,63.50 L314.60,63.50 L314.85,63.50 L315.10,63.50 L315.35,63.50 L315.60,63.50 L315.85,63.50 L316.10,63.50 L316.35,63.50 L316.60,63.50 L316.85,63.50 L317.10,63.50 L317.35,63.50 L317.60,63.50 L317.85,63.50 L318.10,63.50 L318.35,63.50 L318.60,63.50 L318.85,63.50 L319.10,63.50 L319.35,63.50 L319.60,63.50 L319.85,63.50 L320.10,63.50 L320.35,63.50 L320.60,63.50 L320.85,63.50 L321.10,63.50 L321.35,63.50 L321.60,63.50 L321.85,63.50 L322.10,63.50 L322.35,63.50 L322.60,63.50 L322.85,63.50 L323.10,63.50 L323.35,63.50 L323.60,63.50 L323.85,63.50 L324.10,63.50 L324.35,63.50 L324.60,63.50 L324.85,63.50 L325.10,63.50 L325.35,63.50 L325.60,63.50 L325.85,63.50 L326.10,63.50 L326.35,63.50 L326.60,63.50 L326.85,63.50 L327.10,63.50 L327.35,63.50 L327.60,63.50 L327.85,63.50 L328.10,63.50 L328.35,63.50 L328.60,63.50 L328.85,63.50 L329.10,63.50 L329.35,63.50 L329.60,63.50 L329.85,63.50 L330.10,63.50 L330.35,63.50 L330.60,63.50 L330.85,63.50 L331.10,63.50 L331.35,63.50 L331.60,63.50 L331.85,63.50 L332.10,63.50 L332.35,63.50 L332.60,63.50 L332.85,63.50 L333.10,63.50 L333.35,63.50 L333.60,63.50 L333.85,63.50 L334.10,63.50 L334.35,63.50 L334.60,63.50 L334.85,63.50 L335.10,63.50 L335.35,63.50 L335.60,63.50 L335.85,63.50 L336.10,63.50 L336.35,63.50 L336.60,63.50 L336.85,63.50 L337.10,63.50 L337.35,63.50 L337.60,63.50 L337.85,63.50 L338.10,63.50 L338.35,63.50 L338.60,63.50 L338.85,63.50 L339.10,63.50 L339.35,63.50 L339.60,63.50 L339.85,63.50 L340.10,63.50 L340.35,63.50 L340.60,63.50 L340.85,63.50 L341.10,63.50 L341.35,63.50 L341.60,63.50 L341.85,63.50 L342.10,63.50 L342.35,63.50 L342.60,63.50 L342.85,63.50 L343.10,63.50 L343.35,63.50 L343.60,63.50 L343.85,63.50 L344.10,63.50 L344.35,63.50 L344.60,63.50 L344.85,63.50 L345.10,63.50 L345.35,63.50 L345.60,63.50 L345.85,63.50 L346.10,63.50 L346.35,63.50 L346.60,63.50 L346.85,63.50 L347.10,63.50 L347.35,63.50 L347.60,63.50 L347.85,63.50 L348.10,63.50 L348.35,63.50 L348.60,63.50 L348.85,63.50 L349.10,63.50 L349.35,63.50 L349.60,63.50 L349.85,63.50 L350.10,63.50 L350.35,63.51 L350.60,63.51 L350.85,63.51 L351.10,63.52 L351.35,63.52 L351.60,63.53 L351.85,63.53 L352.10,63.54 L352.35,63.55 L352.60,63.56 L352.85,63.58 L353.10,63.59 L353.35,63.61 L353.60,63.64 L353.85,63.66 L354.10,63.70 L354.35,63.74 L354.60,63.79 L354.85,63.84 L355.10,63.91 L355.35,63.99 L355.60,64.08 L355.85,64.19 L356.10,64.32 L356.35,64.46 L356.60,64.63 L356.85,64.83 L357.10,65.05 L357.35,65.31 L357.60,65.60 L357.85,65.93 L358.10,66.29 L358.35,66.70 L358.60,67.15 L358.85,67.64 L359.10,68.18 L359.35,68.76 L359.60,69.38 L359.85,70.05 L360.10,70.75 L360.35,71.48 L360.60,72.25 L360.85,73.06 L361.10,73.88 L361.35,74.74 L361.60,75.61 L361.85,76.50 L362.10,77.41 L362.35,78.34 L362.60,79.28 L362.85,80.23 L363.10,81.18 L363.35,82.15 L363.60,83.12 L363.85,84.10 L364.10,85.09 L364.35,86.08 L364.60,87.07 L364.85,88.07 L365.10,89.06 L365.35,90.06 L365.60,91.07 L365.85,92.07 L366.10,93.07 L366.35,94.08 L366.60,95.09 L366.85,96.10 L367.10,97.10 L367.35,98.11 L367.60,99.12 L367.85,100.13 L368.10,101.14 L368.35,102.15 L368.60,103.16 L368.85,104.17 L369.10,105.18 L369.35,106.19 L369.60,107.20 L369.85,108.21 L370.10,109.23 L370.35,110.24 L370.60,111.25 L370.85,112.26 L371.10,113.27 L371.35,114.28 L371.60,115.29 L371.85,116.30 L372.10,117.31 L372.35,118.33 L372.60,119.34 L372.85,120.35 L373.10,121.36 L373.35,122.37 L373.60,123.38 L373.85,124.39 L374.10,125.40 L374.35,126.41 L374.60,127.43 L374.85,128.44 L375.10,129.45 L375.35,130.46 L375.60,131.47 L375.85,132.48 L376.10,133.49 L376.35,134.50 L376.60,135.51 L376.85,136.52 L377.10,137.54 L377.35,138.55 L377.60,139.56 L377.85,140.57 L378.10,141.58 L378.35,142.59 L378.60,143.60 L378.85,144.61 L379.10,145.62 L379.35,146.64 L379.60,147.65 L379.85,148.66 L380.10,149.67 L380.35,150.68 L380.60,151.69 L380.85,152.70 L381.10,153.71 L381.35,154.72 L381.60,155.73 L381.85,156.75 L382.10,157.76 L382.35,158.77 L382.60,159.78 L382.85,160.79 L383.10,161.80 L383.35,162.81 L383.60,163.82 L383.85,164.83 L384.10,165.84 L384.35,166.86 L384.60,167.87 L384.85,168.88 L385.10,169.89 L385.35,170.90 L385.60,171.91 L385.85,172.92 L386.10,173.93 L386.35,174.94 L386.60,175.95 L386.85,176.97 L387.10,177.98 L387.35,178.99 L387.60,180.00 L387.85,181.01 L388.10,182.02 L388.35,183.03 L388.60,184.04 L388.85,185.05 L389.10,186.06 L389.35,187.08 L389.60,188.09 L389.85,189.10 L390.10,190.11 L390.35,191.12 L390.60,192.13 L390.85,193.14 L391.10,194.15 L391.35,195.16 L391.60,196.17 L391.85,197.19 L392.10,198.20 L392.35,199.21 L392.60,200.22 L392.85,201.23 L393.10,202.24 L393.35,203.25 L393.60,204.26 L393.85,205.27" fill="none" stroke="#0072bd" stroke-width="2.0" stroke-linejoin="round" stroke-linecap="round" clip-path="url(#c2)"/>
<path d="M284.10,63.50 L284.35,63.50 L284.60,63.50 L284.85,63.50 L285.10,63.50 L285.35,63.50 L285.60,63.50 L285.85,63.50 L286.10,63.50 L286.35,63.50 L286.60,63.50 L286.85,63.50 L287.10,63.50 L287.35,63.50 L287.60,63.50 L287.85,63.50 L288.10,63.50 L288.35,63.50 L288.60,63.50 L288.85,63.50 L289.10,63.50 L289.35,63.50 L289.60,63.50 L289.85,63.50 L290.10,63.50 L290.35,63.50 L290.60,63.50 L290.85,63.50 L291.10,63.50 L291.35,63.50 L291.60,63.50 L291.85,63.50 L292.10,63.50 L292.35,63.50 L292.60,63.50 L292.85,63.50 L293.10,63.50 L293.35,63.50 L293.60,63.50 L293.85,63.50 L294.10,63.50 L294.35,63.50 L294.60,63.50 L294.85,63.50 L295.10,63.50 L295.35,63.50 L295.60,63.50 L295.85,63.50 L296.10,63.50 L296.35,63.50 L296.60,63.50 L296.85,63.50 L297.10,63.50 L297.35,63.50 L297.60,63.50 L297.85,63.50 L298.10,63.50 L298.35,63.50 L298.60,63.50 L298.85,63.50 L299.10,63.50 L299.35,63.50 L299.60,63.50 L299.85,63.50 L300.10,63.50 L300.35,63.50 L300.60,63.50 L300.85,63.50 L301.10,63.50 L301.35,63.50 L301.60,63.50 L301.85,63.50 L302.10,63.50 L302.35,63.50 L302.60,63.50 L302.85,63.50 L303.10,63.50 L303.35,63.50 L303.60,63.50 L303.85,63.50 L304.10,63.50 L304.35,63.50 L304.60,63.50 L304.85,63.50 L305.10,63.50 L305.35,63.50 L305.60,63.50 L305.85,63.50 L306.10,63.50 L306.35,63.50 L306.60,63.50 L306.85,63.50 L307.10,63.50 L307.35,63.50 L307.60,63.50 L307.85,63.50 L308.10,63.50 L308.35,63.50 L308.60,63.50 L308.85,63.50 L309.10,63.50 L309.35,63.50 L309.60,63.50 L309.85,63.50 L310.10,63.50 L310.35,63.50 L310.60,63.50 L310.85,63.50 L311.10,63.50 L311.35,63.50 L311.60,63.50 L311.85,63.50 L312.10,63.50 L312.35,63.50 L312.60,63.50 L312.85,63.50 L313.10,63.50 L313.35,63.50 L313.60,63.50 L313.85,63.50 L314.10,63.50 L314.35,63.50 L314.60,63.50 L314.85,63.50 L315.10,63.50 L315.35,63.50 L315.60,63.50 L315.85,63.50 L316.10,63.50 L316.35,63.50 L316.60,63.50 L316.85,63.50 L317.10,63.50 L317.35,63.50 L317.60,63.50 L317.85,63.50 L318.10,63.50 L318.35,63.50 L318.60,63.50 L318.85,63.50 L319.10,63.50 L319.35,63.50 L319.60,63.50 L319.85,63.50 L320.10,63.50 L320.35,63.50 L320.60,63.50 L320.85,63.50 L321.10,63.50 L321.35,63.50 L321.60,63.50 L321.85,63.50 L322.10,63.50 L322.35,63.50 L322.60,63.50 L322.85,63.50 L323.10,63.50 L323.35,63.50 L323.60,63.50 L323.85,63.50 L324.10,63.50 L324.35,63.50 L324.60,63.50 L324.85,63.50 L325.10,63.50 L325.35,63.50 L325.60,63.50 L325.85,63.50 L326.10,63.50 L326.35,63.50 L326.60,63.50 L326.85,63.50 L327.10,63.50 L327.35,63.50 L327.60,63.50 L327.85,63.50 L328.10,63.50 L328.35,63.50 L328.60,63.50 L328.85,63.50 L329.10,63.50 L329.35,63.50 L329.60,63.50 L329.85,63.50 L330.10,63.50 L330.35,63.50 L330.60,63.50 L330.85,63.50 L331.10,63.50 L331.35,63.50 L331.60,63.50 L331.85,63.50 L332.10,63.50 L332.35,63.50 L332.60,63.50 L332.85,63.50 L333.10,63.50 L333.35,63.50 L333.60,63.50 L333.85,63.50 L334.10,63.50 L334.35,63.50 L334.60,63.50 L334.85,63.50 L335.10,63.50 L335.35,63.50 L335.60,63.50 L335.85,63.50 L336.10,63.50 L336.35,63.50 L336.60,63.50 L336.85,63.50 L337.10,63.50 L337.35,63.50 L337.60,63.50 L337.85,63.50 L338.10,63.50 L338.35,63.50 L338.60,63.50 L338.85,63.50 L339.10,63.50 L339.35,63.50 L339.60,63.50 L339.85,63.50 L340.10,63.50 L340.35,63.50 L340.60,63.50 L340.85,63.50 L341.10,63.50 L341.35,63.50 L341.60,63.50 L341.85,63.50 L342.10,63.50 L342.35,63.49 L342.60,63.49 L342.85,63.49 L343.10,63.49 L343.35,63.49 L343.60,63.49 L343.85,63.49 L344.10,63.49 L344.35,63.49 L344.60,63.49 L344.85,63.49 L345.10,63.49 L345.35,63.49 L345.60,63.48 L345.85,63.48 L346.10,63.48 L346.35,63.48 L346.60,63.48 L346.85,63.48 L347.10,63.48 L347.35,63.47 L347.60,63.47 L347.85,63.47 L348.10,63.47 L348.35,63.46 L348.60,63.46 L348.85,63.46 L349.10,63.45 L349.35,63.45 L349.60,63.45 L349.85,63.44 L350.10,63.44 L350.35,63.43 L350.60,63.43 L350.85,63.42 L351.10,63.42 L351.35,63.41 L351.60,63.41 L351.85,63.40 L352.10,63.39 L352.35,63.39 L352.60,63.38 L352.85,63.37 L353.10,63.37 L353.35,63.36 L353.60,63.36 L353.85,63.36 L354.10,63.35 L354.35,63.35 L354.60,63.36 L354.85,63.36 L355.10,63.37 L355.35,63.39 L355.60,63.41 L355.85,63.43 L356.10,63.47 L356.35,63.51 L356.60,63.57 L356.85,63.65 L357.10,63.74 L357.35,63.85 L357.60,63.98 L357.85,64.15 L358.10,64.34 L358.35,64.57 L358.60,64.84 L358.85,65.15 L359.10,65.50 L359.35,65.90 L359.60,66.35 L359.85,66.85 L360.10,67.41 L360.35,68.01 L360.60,68.66 L360.85,69.35 L361.10,70.09 L361.35,70.86 L361.60,71.67 L361.85,72.52 L362.10,73.39 L362.35,74.28 L362.60,75.20 L362.85,76.13 L363.10,77.08 L363.35,78.05 L363.60,79.02 L363.85,80.00 L364.10,80.99 L364.35,81.99 L364.60,82.99 L364.85,84.00 L365.10,85.00 L365.35,86.02 L365.60,87.03 L365.85,88.04 L366.10,89.06 L366.35,90.07 L366.60,91.09 L366.85,92.11 L367.10,93.12 L367.35,94.14 L367.60,95.16 L367.85,96.17 L368.10,97.19 L368.35,98.21 L368.60,99.23 L368.85,100.24 L369.10,101.26 L369.35,102.27 L369.60,103.29 L369.85,104.30 L370.10,105.32 L370.35,106.33 L370.60,107.35 L370.85,108.36 L371.10,109.38 L371.35,110.39 L371.60,111.40 L371.85,112.42 L372.10,113.43 L372.35,114.44 L372.60,115.46 L372.85,116.47 L373.10,117.48 L373.35,118.49 L373.60,119.51 L373.85,120.52 L374.10,121.53 L374.35,122.54 L374.60,123.56 L374.85,124.57 L375.10,125.58 L375.35,126.59 L375.60,127.60 L375.85,128.61 L376.10,129.63 L376.35,130.64 L376.60,131.65 L376.85,132.66 L377.10,133.67 L377.35,134.68 L377.60,135.70 L377.85,136.71 L378.10,137.72 L378.35,138.73 L378.60,139.74 L378.85,140.75 L379.10,141.76 L379.35,142.77 L379.60,143.79 L379.85,144.80 L380.10,145.81 L380.35,146.82 L380.60,147.83 L380.85,148.84 L381.10,149.85 L381.35,150.86 L381.60,151.87 L381.85,152.89 L382.10,153.90 L382.35,154.91 L382.60,155.92 L382.85,156.93 L383.10,157.94 L383.35,158.95 L383.60,159.96 L383.85,160.97 L384.10,161.99 L384.35,163.00 L384.60,164.01 L384.85,165.02 L385.10,166.03 L385.35,167.04 L385.60,168.05 L385.85,169.06 L386.10,170.07 L386.35,171.08 L386.60,172.10 L386.85,173.11 L387.10,174.12 L387.35,175.13 L387.60,176.14 L387.85,177.15 L388.10,178.16 L388.35,179.17 L388.60,180.18 L388.85,181.20 L389.10,182.21 L389.35,183.22 L389.60,184.23 L389.85,185.24 L390.10,186.25 L390.35,187.26 L390.60,188.27 L390.85,189.28 L391.10,190.29 L391.35,191.31 L391.60,192.32 L391.85,193.33 L392.10,194.34 L392.35,195.35 L392.60,196.36 L392.85,197.37 L393.10,198.38 L393.35,199.39 L393.60,200.40 L393.85,201.42 L394.10,202.43 L394.35,203.44 L394.60,204.45" fill="none" stroke="#0072bd" stroke-width="2.0" stroke-linejoin="round" stroke-linecap="round" clip-path="url(#c2)"/>
<path d="M284.10,63.50 L284.35,63.50 L284.60,63.50 L284.85,63.50 L285.10,63.50 L285.35,63.50 L285.60,63.50 L285.85,63.50 L286.10,63.50 L286.35,63.50 L286.60,63.50 L286.85,63.50 L287.10,63.50 L287.35,63.50 L287.60,63.50 L287.85,63.50 L288.10,63.50 L288.35,63.50 L288.60,63.50 L288.85,63.50 L289.10,63.50 L289.35,63.50 L289.60,63.50 L289.85,63.50 L290.10,63.50 L290.35,63.50 L290.60,63.50 L290.85,63.50 L291.10,63.50 L291.35,63.50 L291.60,63.50 L291.85,63.50 L292.10,63.50 L292.35,63.50 L292.60,63.50 L292.85,63.50 L293.10,63.50 L293.35,63.50 L293.60,63.50 L293.85,63.50 L294.10,63.50 L294.35,63.50 L294.60,63.50 L294.85,63.50 L295.10,63.50 L295.35,63.50 L295.60,63.50 L295.85,63.50 L296.10,63.50 L296.35,63.50 L296.60,63.50 L296.85,63.50 L297.10,63.50 L297.35,63.50 L297.60,63.50 L297.85,63.50 L298.10,63.50 L298.35,63.50 L298.60,63.50 L298.85,63.50 L299.10,63.50 L299.35,63.50 L299.60,63.50 L299.85,63.50 L300.10,63.50 L300.35,63.50 L300.60,63.50 L300.85,63.50 L301.10,63.50 L301.35,63.50 L301.60,63.50 L301.85,63.50 L302.10,63.50 L302.35,63.50 L302.60,63.50 L302.85,63.50 L303.10,63.50 L303.35,63.50 L303.60,63.50 L303.85,63.50 L304.10,63.50 L304.35,63.50 L304.60,63.50 L304.85,63.50 L305.10,63.50 L305.35,63.50 L305.60,63.50 L305.85,63.50 L306.10,63.50 L306.35,63.50 L306.60,63.50 L306.85,63.50 L307.10,63.50 L307.35,63.50 L307.60,63.50 L307.85,63.50 L308.10,63.50 L308.35,63.50 L308.60,63.50 L308.85,63.50 L309.10,63.50 L309.35,63.50 L309.60,63.50 L309.85,63.50 L310.10,63.50 L310.35,63.50 L310.60,63.50 L310.85,63.50 L311.10,63.50 L311.35,63.50 L311.60,63.50 L311.85,63.50 L312.10,63.50 L312.35,63.50 L312.60,63.50 L312.85,63.50 L313.10,63.50 L313.35,63.50 L313.60,63.50 L313.85,63.50 L314.10,63.50 L314.35,63.50 L314.60,63.50 L314.85,63.50 L315.10,63.50 L315.35,63.50 L315.60,63.50 L315.85,63.50 L316.10,63.50 L316.35,63.50 L316.60,63.50 L316.85,63.50 L317.10,63.50 L317.35,63.50 L317.60,63.50 L317.85,63.50 L318.10,63.50 L318.35,63.50 L318.60,63.50 L318.85,63.50 L319.10,63.50 L319.35,63.50 L319.60,63.50 L319.85,63.50 L320.10,63.50 L320.35,63.50 L320.60,63.50 L320.85,63.50 L321.10,63.50 L321.35,63.50 L321.60,63.50 L321.85,63.50 L322.10,63.50 L322.35,63.50 L322.60,63.50 L322.85,63.50 L323.10,63.50 L323.35,63.50 L323.60,63.50 L323.85,63.50 L324.10,63.50 L324.35,63.50 L324.60,63.50 L324.85,63.50 L325.10,63.50 L325.35,63.50 L325.60,63.50 L325.85,63.50 L326.10,63.50 L326.35,63.50 L326.60,63.50 L326.85,63.50 L327.10,63.50 L327.35,63.50 L327.60,63.50 L327.85,63.50 L328.10,63.50 L328.35,63.50 L328.60,63.50 L328.85,63.50 L329.10,63.50 L329.35,63.50 L329.60,63.50 L329.85,63.50 L330.10,63.50 L330.35,63.50 L330.60,63.50 L330.85,63.50 L331.10,63.50 L331.35,63.50 L331.60,63.50 L331.85,63.50 L332.10,63.50 L332.35,63.50 L332.60,63.50 L332.85,63.50 L333.10,63.50 L333.35,63.50 L333.60,63.50 L333.85,63.50 L334.10,63.50 L334.35,63.50 L334.60,63.50 L334.85,63.50 L335.10,63.50 L335.35,63.50 L335.60,63.50 L335.85,63.50 L336.10,63.50 L336.35,63.50 L336.60,63.50 L336.85,63.50 L337.10,63.50 L337.35,63.50 L337.60,63.50 L337.85,63.50 L338.10,63.50 L338.35,63.50 L338.60,63.50 L338.85,63.50 L339.10,63.50 L339.35,63.50 L339.60,63.50 L339.85,63.50 L340.10,63.50 L340.35,63.50 L340.60,63.50 L340.85,63.50 L341.10,63.50 L341.35,63.50 L341.60,63.49 L341.85,63.49 L342.10,63.49 L342.35,63.49 L342.60,63.49 L342.85,63.49 L343.10,63.49 L343.35,63.49 L343.60,63.49 L343.85,63.49 L344.10,63.49 L344.35,63.49 L344.60,63.49 L344.85,63.48 L345.10,63.48 L345.35,63.48 L345.60,63.48 L345.85,63.48 L346.10,63.48 L346.35,63.47 L346.60,63.47 L346.85,63.47 L347.10,63.47 L347.35,63.46 L347.60,63.46 L347.85,63.46 L348.10,63.45 L348.35,63.45 L348.60,63.45 L348.85,63.44 L349.10,63.44 L349.35,63.43 L349.60,63.42 L349.85,63.42 L350.10,63.41 L350.35,63.40 L350.60,63.40 L350.85,63.39 L351.10,63.38 L351.35,63.37 L351.60,63.36 L351.85,63.34 L352.10,63.33 L352.35,63.32 L352.60,63.30 L352.85,63.29 L353.10,63.27 L353.35,63.26 L353.60,63.24 L353.85,63.22 L354.10,63.20 L354.35,63.18 L354.60,63.16 L354.85,63.14 L355.10,63.12 L355.35,63.10 L355.60,63.08 L355.85,63.06 L356.10,63.04 L356.35,63.03 L356.60,63.02 L356.85,63.01 L357.10,63.01 L357.35,63.02 L357.60,63.04 L357.85,63.08 L358.10,63.13 L358.35,63.20 L358.60,63.30 L358.85,63.42 L359.10,63.58 L359.35,63.77 L359.60,64.01 L359.85,64.30 L360.10,64.64 L360.35,65.03 L360.60,65.48 L360.85,65.99 L361.10,66.57 L361.35,67.19 L361.60,67.88 L361.85,68.61 L362.10,69.39 L362.35,70.21 L362.60,71.07 L362.85,71.97 L363.10,72.89 L363.35,73.83 L363.60,74.80 L363.85,75.78 L364.10,76.77 L364.35,77.77 L364.60,78.78 L364.85,79.80 L365.10,80.82 L365.35,81.85 L365.60,82.88 L365.85,83.91 L366.10,84.94 L366.35,85.97 L366.60,87.00 L366.85,88.03 L367.10,89.06 L367.35,90.10 L367.60,91.13 L367.85,92.16 L368.10,93.18 L368.35,94.21 L368.60,95.24 L368.85,96.26 L369.10,97.29 L369.35,98.31 L369.60,99.34 L369.85,100.36 L370.10,101.38 L370.35,102.40 L370.60,103.42 L370.85,104.44 L371.10,105.46 L371.35,106.48 L371.60,107.50 L371.85,108.51 L372.10,109.53 L372.35,110.55 L372.60,111.56 L372.85,112.58 L373.10,113.59 L373.35,114.61 L373.60,115.62 L373.85,116.64 L374.10,117.65 L374.35,118.67 L374.60,119.68 L374.85,120.69 L375.10,121.71 L375.35,122.72 L375.60,123.73 L375.85,124.74 L376.10,125.76 L376.35,126.77 L376.60,127.78 L376.85,128.79 L377.10,129.81 L377.35,130.82 L377.60,131.83 L377.85,132.84 L378.10,133.85 L378.35,134.87 L378.60,135.88 L378.85,136.89 L379.10,137.90 L379.35,138.91 L379.60,139.92 L379.85,140.94 L380.10,141.95 L380.35,142.96 L380.60,143.97 L380.85,144.98 L381.10,145.99 L381.35,147.00 L381.60,148.01 L381.85,149.03 L382.10,150.04 L382.35,151.05 L382.60,152.06 L382.85,153.07 L383.10,154.08 L383.35,155.09 L383.60,156.10 L383.85,157.12 L384.10,158.13 L384.35,159.14 L384.60,160.15 L384.85,161.16 L385.10,162.17 L385.35,163.18 L385.60,164.19 L385.85,165.20 L386.10,166.22 L386.35,167.23 L386.60,168.24 L386.85,169.25 L387.10,170.26 L387.35,171.27 L387.60,172.28 L387.85,173.29 L388.10,174.30 L388.35,175.31 L388.60,176.33 L388.85,177.34 L389.10,178.35 L389.35,179.36 L389.60,180.37 L389.85,181.38 L390.10,182.39 L390.35,183.40 L390.60,184.41 L390.85,185.42 L391.10,186.44 L391.35,187.45 L391.60,188.46 L391.85,189.47 L392.10,190.48 L392.35,191.49 L392.60,192.50 L392.85,193.51 L393.10,194.52 L393.35,195.53 L393.60,196.55 L393.85,197.56 L394.10,198.57 L394.35,199.58 L394.60,200.59 L394.85,201.60 L395.10,202.61 L395.35,203.62 L395.60,204.63" fill="none" stroke="#0072bd" stroke-width="2.0" stroke-linejoin="round" stroke-linecap="round" clip-path="url(#c2)"/>
<path d="M301.30,203.00 L301.58,201.83 L301.96,200.26 L302.40,198.39 L302.90,196.31 L303.43,194.14 L303.97,191.96 L304.50,189.88 L305.00,188.00 L305.48,186.29 L305.97,184.66 L306.46,183.07 L306.95,181.50 L307.45,179.93 L307.96,178.34 L308.47,176.71 L309.00,175.00 L309.53,173.22 L310.05,171.39 L310.58,169.52 L311.12,167.62 L311.67,165.71 L312.25,163.80 L312.86,161.89 L313.50,160.00 L314.18,158.12 L314.89,156.25 L315.62,154.38 L316.38,152.50 L317.16,150.62 L317.96,148.75 L318.77,146.88 L319.60,145.00 L320.43,143.16 L321.26,141.37 L322.11,139.59 L322.97,137.81 L323.86,135.99 L324.79,134.10 L325.77,132.11 L326.80,130.00 L327.90,127.74 L329.07,125.35 L330.29,122.87 L331.55,120.31 L332.83,117.72 L334.10,115.12 L335.37,112.53 L336.60,110.00 L337.81,107.50 L339.02,105.00 L340.23,102.50 L341.43,100.00 L342.63,97.50 L343.83,95.00 L345.02,92.50 L346.20,90.00 L347.42,87.39 L348.70,84.64 L350.00,81.82 L351.27,79.03 L352.50,76.36 L353.64,73.91 L354.65,71.76 L355.50,70.00 L356.17,68.69 L356.67,67.77 L357.05,67.15 L357.34,66.74 L357.58,66.46 L357.79,66.22 L358.02,65.93 L358.30,65.50 L358.61,64.97 L358.90,64.44 L359.18,63.91 L359.45,63.40 L359.72,62.90 L359.98,62.43 L360.24,62.00 L360.50,61.60 L360.76,61.23 L361.00,60.88 L361.24,60.56 L361.48,60.26 L361.72,60.00 L361.97,59.79 L362.23,59.62 L362.50,59.50 L362.79,59.45 L363.09,59.46 L363.40,59.52 L363.72,59.62 L364.04,59.75 L364.36,59.90 L364.68,60.05 L365.00,60.20 L365.31,60.36 L365.62,60.55 L365.94,60.76 L366.25,60.98 L366.56,61.20 L366.88,61.41 L367.19,61.62 L367.50,61.80 L367.80,61.97 L368.09,62.12 L368.37,62.28 L368.66,62.42 L368.95,62.55 L369.27,62.68 L369.62,62.79 L370.00,62.90 L370.38,62.99 L370.73,63.08 L371.08,63.15 L371.47,63.21 L371.92,63.27 L372.47,63.32 L373.15,63.36 L374.00,63.40 L374.87,63.43 L375.68,63.46 L376.54,63.47 L377.53,63.48 L378.77,63.49 L380.36,63.49 L382.40,63.50 L385.00,63.50 L388.51,63.50 L392.98,63.51 L398.08,63.51 L403.44,63.51 L408.71,63.50 L413.55,63.50 L417.59,63.50 L420.50,63.50" fill="none" stroke="#d95319" stroke-width="2.0" stroke-linejoin="round" stroke-linecap="round" clip-path="url(#c2)"/>
<path d="M300.80,203.00 L301.08,201.83 L301.46,200.26 L301.90,198.39 L302.40,196.31 L302.93,194.14 L303.47,191.96 L304.00,189.88 L304.50,188.00 L304.98,186.29 L305.47,184.66 L305.96,183.07 L306.46,181.50 L306.96,179.93 L307.46,178.34 L307.98,176.71 L308.50,175.00 L309.02,173.22 L309.54,171.39 L310.06,169.52 L310.59,167.62 L311.14,165.71 L311.70,163.80 L312.29,161.89 L312.90,160.00 L313.54,158.12 L314.21,156.25 L314.90,154.38 L315.61,152.50 L316.34,150.62 L317.08,148.75 L317.84,146.88 L318.60,145.00 L319.36,143.16 L320.12,141.37 L320.88,139.59 L321.66,137.81 L322.47,135.99 L323.32,134.10 L324.23,132.11 L325.20,130.00 L326.26,127.74 L327.39,125.35 L328.58,122.87 L329.82,120.31 L331.08,117.72 L332.34,115.12 L333.58,112.53 L334.80,110.00 L335.99,107.50 L337.18,105.00 L338.37,102.50 L339.56,100.00 L340.74,97.50 L341.93,95.00 L343.11,92.50 L344.30,90.00 L345.53,87.39 L346.82,84.64 L348.14,81.82 L349.44,79.03 L350.70,76.36 L351.87,73.91 L352.91,71.76 L353.80,70.00 L354.51,68.69 L355.06,67.77 L355.49,67.14 L355.84,66.73 L356.13,66.45 L356.40,66.21 L356.68,65.92 L357.00,65.50 L357.35,64.99 L357.67,64.48 L357.99,63.99 L358.29,63.51 L358.59,63.04 L358.89,62.60 L359.19,62.19 L359.50,61.80 L359.81,61.43 L360.12,61.08 L360.44,60.74 L360.75,60.43 L361.06,60.15 L361.38,59.92 L361.69,59.73 L362.00,59.60 L362.31,59.53 L362.62,59.53 L362.94,59.58 L363.25,59.66 L363.56,59.78 L363.88,59.91 L364.19,60.06 L364.50,60.20 L364.81,60.36 L365.12,60.54 L365.44,60.75 L365.75,60.97 L366.06,61.19 L366.38,61.41 L366.69,61.62 L367.00,61.80 L367.30,61.97 L367.59,62.12 L367.87,62.28 L368.16,62.42 L368.45,62.55 L368.77,62.68 L369.12,62.79 L369.50,62.90 L369.88,62.99 L370.22,63.08 L370.56,63.15 L370.94,63.21 L371.38,63.27 L371.94,63.32 L372.63,63.36 L373.50,63.40 L374.41,63.43 L375.29,63.46 L376.21,63.47 L377.28,63.48 L378.60,63.49 L380.26,63.49 L382.36,63.50 L385.00,63.50 L388.53,63.50 L393.02,63.51 L398.11,63.51 L403.47,63.51 L408.73,63.50 L413.56,63.50 L417.60,63.50 L420.50,63.50" fill="none" stroke="#d95319" stroke-width="2.0" stroke-linejoin="round" stroke-linecap="round" clip-path="url(#c2)"/>
<path d="M300.80,203.00 L301.08,201.83 L301.46,200.26 L301.90,198.39 L302.40,196.31 L302.93,194.14 L303.47,191.96 L304.00,189.88 L304.50,188.00 L304.98,186.29 L305.48,184.66 L305.97,183.07 L306.48,181.50 L306.98,179.93 L307.49,178.34 L307.99,176.71 L308.50,175.00 L309.01,173.22 L309.52,171.39 L310.03,169.52 L310.54,167.62 L311.05,165.71 L311.57,163.80 L312.08,161.89 L312.60,160.00 L313.11,158.12 L313.62,156.25 L314.12,154.38 L314.63,152.50 L315.15,150.62 L315.68,148.75 L316.23,146.88 L316.80,145.00 L317.37,143.16 L317.94,141.37 L318.50,139.59 L319.09,137.81 L319.71,135.99 L320.40,134.10 L321.15,132.11 L322.00,130.00 L322.96,127.74 L324.02,125.35 L325.15,122.87 L326.34,120.31 L327.57,117.72 L328.80,115.12 L330.02,112.53 L331.20,110.00 L332.35,107.50 L333.50,105.00 L334.65,102.50 L335.81,100.00 L336.96,97.50 L338.13,95.00 L339.31,92.50 L340.50,90.00 L341.75,87.40 L343.08,84.65 L344.45,81.84 L345.81,79.06 L347.12,76.40 L348.35,73.95 L349.46,71.78 L350.40,70.00 L351.16,68.64 L351.76,67.64 L352.24,66.93 L352.63,66.42 L352.97,66.05 L353.29,65.74 L353.62,65.41 L354.00,65.00 L354.40,64.55 L354.79,64.15 L355.17,63.79 L355.54,63.46 L355.90,63.16 L356.26,62.87 L356.63,62.59 L357.00,62.30 L357.38,62.01 L357.76,61.72 L358.15,61.43 L358.53,61.16 L358.91,60.91 L359.29,60.68 L359.65,60.47 L360.00,60.30 L360.34,60.16 L360.66,60.04 L360.97,59.95 L361.28,59.87 L361.58,59.83 L361.89,59.80 L362.19,59.79 L362.50,59.80 L362.81,59.83 L363.12,59.89 L363.44,59.98 L363.75,60.08 L364.06,60.20 L364.38,60.33 L364.69,60.46 L365.00,60.60 L365.31,60.75 L365.62,60.92 L365.94,61.10 L366.25,61.29 L366.56,61.48 L366.88,61.66 L367.19,61.84 L367.50,62.00 L367.80,62.15 L368.09,62.29 L368.37,62.43 L368.66,62.56 L368.95,62.69 L369.27,62.80 L369.62,62.91 L370.00,63.00 L370.38,63.08 L370.73,63.15 L371.08,63.21 L371.47,63.26 L371.92,63.30 L372.47,63.34 L373.15,63.37 L374.00,63.40 L374.87,63.43 L375.68,63.45 L376.54,63.46 L377.53,63.47 L378.77,63.48 L380.36,63.49 L382.40,63.49 L385.00,63.50 L388.51,63.50 L392.98,63.51 L398.08,63.51 L403.44,63.51 L408.71,63.50 L413.55,63.50 L417.59,63.50 L420.50,63.50" fill="none" stroke="#d95319" stroke-width="2.0" stroke-linejoin="round" stroke-linecap="round" clip-path="url(#c2)"/>
<path d="M519.50,132.70 L519.69,132.73 L519.94,132.75 L520.23,132.79 L520.56,132.82 L520.92,132.87 L521.28,132.93 L521.65,133.01 L522.00,133.10 L522.34,133.20 L522.69,133.31 L523.04,133.43 L523.41,133.56 L523.78,133.70 L524.17,133.88 L524.57,134.07 L525.00,134.30 L525.44,134.55 L525.88,134.82 L526.34,135.10 L526.81,135.41 L527.31,135.75 L527.84,136.13 L528.40,136.54 L529.00,137.00 L529.65,137.50 L530.35,138.03 L531.08,138.59 L531.84,139.19 L532.63,139.83 L533.42,140.51 L534.21,141.23 L535.00,142.00 L535.79,142.84 L536.60,143.75 L537.42,144.73 L538.25,145.74 L539.08,146.75 L539.90,147.75 L540.71,148.71 L541.50,149.60 L542.27,150.43 L543.04,151.23 L543.79,152.00 L544.53,152.75 L545.27,153.48 L546.01,154.19 L546.75,154.90 L547.50,155.60 L548.24,156.29 L548.98,156.96 L549.71,157.61 L550.45,158.26 L551.19,158.89 L551.94,159.53 L552.71,160.16 L553.50,160.80 L554.32,161.45 L555.18,162.12 L556.06,162.80 L556.95,163.47 L557.83,164.12 L558.69,164.75 L559.52,165.35 L560.30,165.90 L561.03,166.40 L561.73,166.87 L562.40,167.30 L563.04,167.71 L563.67,168.09 L564.29,168.47 L564.89,168.83 L565.50,169.20 L566.07,169.55 L566.57,169.87 L567.05,170.18 L567.52,170.47 L568.02,170.78 L568.58,171.09 L569.23,171.43 L570.00,171.80 L570.90,172.21 L571.91,172.66 L573.01,173.13 L574.17,173.61 L575.36,174.10 L576.56,174.58 L577.75,175.05 L578.90,175.50 L580.02,175.93 L581.15,176.35 L582.27,176.76 L583.40,177.16 L584.53,177.56 L585.65,177.95 L586.78,178.33 L587.90,178.70 L589.02,179.07 L590.13,179.43 L591.24,179.78 L592.35,180.13 L593.46,180.47 L594.57,180.79 L595.68,181.10 L596.80,181.40 L597.94,181.68 L599.11,181.95 L600.29,182.20 L601.47,182.44 L602.63,182.67 L603.74,182.89 L604.81,183.10 L605.80,183.30 L606.70,183.49 L607.50,183.68 L608.25,183.85 L608.96,184.02 L609.67,184.18 L610.39,184.32 L611.16,184.47 L612.00,184.60 L612.89,184.73 L613.78,184.85 L614.69,184.96 L615.64,185.06 L616.63,185.15 L617.68,185.24 L618.80,185.32 L620.00,185.40 L621.07,185.47 L621.90,185.53 L622.67,185.58 L623.56,185.62 L624.76,185.66 L626.45,185.69 L628.80,185.72 L632.00,185.75 L636.52,185.77 L642.39,185.78 L649.13,185.79 L656.25,185.80 L663.28,185.80 L669.73,185.80 L675.13,185.80 L679.00,185.80" fill="none" stroke="#000000" stroke-width="1.8" stroke-linejoin="round" stroke-linecap="round" clip-path="url(#c3)"/>
<path d="M519.50,81.40 L519.62,81.45 L519.77,81.52 L519.95,81.59 L520.16,81.68 L520.37,81.78 L520.59,81.90 L520.80,82.04 L521.00,82.20 L521.19,82.39 L521.38,82.59 L521.56,82.81 L521.75,83.06 L521.94,83.32 L522.12,83.59 L522.31,83.89 L522.50,84.20 L522.69,84.53 L522.88,84.87 L523.06,85.24 L523.25,85.62 L523.44,86.02 L523.62,86.43 L523.81,86.86 L524.00,87.30 L524.19,87.76 L524.38,88.24 L524.56,88.73 L524.75,89.24 L524.94,89.77 L525.12,90.30 L525.31,90.85 L525.50,91.40 L525.69,91.96 L525.87,92.53 L526.05,93.11 L526.24,93.71 L526.42,94.31 L526.61,94.93 L526.80,95.56 L527.00,96.20 L527.20,96.86 L527.41,97.53 L527.62,98.22 L527.83,98.91 L528.05,99.62 L528.26,100.34 L528.48,101.07 L528.70,101.80 L528.92,102.54 L529.14,103.30 L529.37,104.07 L529.59,104.84 L529.82,105.63 L530.05,106.41 L530.27,107.21 L530.50,108.00 L530.72,108.79 L530.95,109.58 L531.17,110.37 L531.39,111.17 L531.61,111.98 L531.84,112.80 L532.07,113.64 L532.30,114.50 L532.54,115.39 L532.79,116.30 L533.04,117.23 L533.29,118.18 L533.54,119.14 L533.80,120.09 L534.05,121.05 L534.30,122.00 L534.55,122.95 L534.80,123.89 L535.05,124.84 L535.30,125.79 L535.55,126.75 L535.80,127.70 L536.05,128.65 L536.30,129.60 L536.55,130.55 L536.80,131.51 L537.05,132.46 L537.30,133.42 L537.55,134.37 L537.80,135.32 L538.05,136.26 L538.30,137.20 L538.55,138.13 L538.80,139.06 L539.05,139.99 L539.30,140.92 L539.55,141.83 L539.80,142.74 L540.05,143.63 L540.30,144.50 L540.55,145.35 L540.80,146.19 L541.04,147.02 L541.29,147.83 L541.54,148.63 L541.79,149.43 L542.04,150.22 L542.30,151.00 L542.56,151.77 L542.82,152.52 L543.08,153.26 L543.34,154.00 L543.61,154.74 L543.89,155.48 L544.19,156.23 L544.50,157.00 L544.83,157.79 L545.18,158.59 L545.54,159.40 L545.92,160.22 L546.30,161.04 L546.70,161.86 L547.10,162.68 L547.50,163.50 L547.91,164.31 L548.33,165.13 L548.75,165.95 L549.19,166.77 L549.63,167.58 L550.08,168.40 L550.54,169.20 L551.00,170.00 L551.48,170.79 L551.96,171.58 L552.46,172.36 L552.97,173.14 L553.48,173.92 L553.99,174.69 L554.50,175.45 L555.00,176.20 L555.50,176.95 L555.99,177.69 L556.48,178.43 L556.97,179.16 L557.46,179.88 L557.96,180.59 L558.48,181.30 L559.00,182.00 L559.54,182.70 L560.09,183.41 L560.65,184.12 L561.22,184.81 L561.79,185.49 L562.36,186.13 L562.93,186.74 L563.50,187.30 L564.06,187.81 L564.61,188.29 L565.17,188.72 L565.72,189.13 L566.28,189.51 L566.84,189.86 L567.41,190.19 L568.00,190.50 L568.60,190.78 L569.21,191.04 L569.84,191.27 L570.47,191.47 L571.10,191.66 L571.74,191.82 L572.37,191.97 L573.00,192.10 L573.62,192.21 L574.25,192.30 L574.88,192.36 L575.50,192.41 L576.12,192.45 L576.75,192.47 L577.38,192.49 L578.00,192.50 L578.62,192.51 L579.23,192.52 L579.83,192.52 L580.44,192.51 L581.05,192.48 L581.68,192.44 L582.33,192.38 L583.00,192.30 L583.70,192.19 L584.43,192.06 L585.18,191.92 L585.94,191.75 L586.71,191.57 L587.48,191.39 L588.24,191.19 L589.00,191.00 L589.74,190.80 L590.48,190.59 L591.21,190.36 L591.94,190.13 L592.68,189.90 L593.43,189.66 L594.20,189.43 L595.00,189.20 L595.82,188.97 L596.66,188.73 L597.51,188.49 L598.38,188.26 L599.26,188.02 L600.16,187.80 L601.07,187.59 L602.00,187.40 L602.95,187.22 L603.93,187.06 L604.93,186.91 L605.94,186.76 L606.96,186.63 L607.98,186.51 L608.99,186.40 L610.00,186.30 L610.97,186.21 L611.91,186.14 L612.82,186.09 L613.75,186.04 L614.71,186.00 L615.72,185.96 L616.81,185.93 L618.00,185.90 L619.06,185.87 L619.85,185.85 L620.58,185.84 L621.44,185.82 L622.61,185.82 L624.30,185.81 L626.70,185.81 L630.00,185.80 L634.69,185.80 L640.80,185.79 L647.82,185.79 L655.25,185.79 L662.59,185.80 L669.33,185.80 L674.97,185.80 L679.00,185.80" fill="none" stroke="#000000" stroke-width="1.8" stroke-linejoin="round" stroke-linecap="round" clip-path="url(#c3)"/>
<path d="M519.50,78.60 L519.62,78.65 L519.77,78.70 L519.95,78.76 L520.16,78.84 L520.37,78.93 L520.59,79.03 L520.80,79.16 L521.00,79.30 L521.19,79.46 L521.38,79.65 L521.56,79.85 L521.75,80.06 L521.94,80.30 L522.12,80.55 L522.31,80.81 L522.50,81.10 L522.69,81.40 L522.88,81.72 L523.06,82.06 L523.25,82.41 L523.44,82.78 L523.62,83.17 L523.81,83.58 L524.00,84.00 L524.19,84.44 L524.38,84.90 L524.56,85.38 L524.75,85.88 L524.94,86.39 L525.12,86.92 L525.31,87.45 L525.50,88.00 L525.69,88.56 L525.87,89.13 L526.06,89.71 L526.24,90.31 L526.43,90.91 L526.62,91.53 L526.81,92.16 L527.00,92.80 L527.19,93.45 L527.39,94.11 L527.59,94.79 L527.79,95.47 L527.99,96.17 L528.19,96.87 L528.39,97.58 L528.60,98.30 L528.81,99.02 L529.02,99.75 L529.23,100.49 L529.44,101.24 L529.66,101.99 L529.87,102.75 L530.09,103.52 L530.30,104.30 L530.51,105.08 L530.72,105.86 L530.92,106.65 L531.13,107.44 L531.34,108.25 L531.55,109.08 L531.77,109.93 L532.00,110.80 L532.24,111.70 L532.48,112.64 L532.73,113.60 L532.98,114.57 L533.24,115.55 L533.49,116.54 L533.75,117.52 L534.00,118.50 L534.25,119.47 L534.50,120.45 L534.75,121.42 L535.00,122.40 L535.25,123.38 L535.50,124.35 L535.75,125.33 L536.00,126.30 L536.25,127.27 L536.50,128.24 L536.75,129.20 L537.00,130.17 L537.25,131.13 L537.50,132.09 L537.75,133.05 L538.00,134.00 L538.25,134.95 L538.50,135.90 L538.75,136.85 L539.00,137.79 L539.25,138.73 L539.50,139.66 L539.75,140.59 L540.00,141.50 L540.25,142.41 L540.50,143.31 L540.75,144.21 L541.00,145.09 L541.25,145.97 L541.50,146.83 L541.75,147.68 L542.00,148.50 L542.25,149.30 L542.49,150.07 L542.73,150.82 L542.97,151.56 L543.21,152.29 L543.46,153.02 L543.73,153.76 L544.00,154.50 L544.29,155.25 L544.58,155.99 L544.88,156.73 L545.19,157.47 L545.50,158.21 L545.83,158.96 L546.16,159.73 L546.50,160.50 L546.85,161.29 L547.20,162.09 L547.57,162.90 L547.94,163.72 L548.32,164.54 L548.70,165.36 L549.10,166.18 L549.50,167.00 L549.91,167.82 L550.33,168.64 L550.75,169.46 L551.19,170.28 L551.63,171.10 L552.08,171.91 L552.54,172.71 L553.00,173.50 L553.48,174.28 L553.96,175.05 L554.46,175.82 L554.97,176.58 L555.48,177.33 L555.99,178.07 L556.50,178.79 L557.00,179.50 L557.50,180.20 L558.00,180.89 L558.50,181.57 L559.00,182.23 L559.50,182.88 L560.00,183.51 L560.50,184.12 L561.00,184.70 L561.49,185.26 L561.98,185.79 L562.46,186.31 L562.94,186.81 L563.43,187.28 L563.93,187.74 L564.45,188.18 L565.00,188.60 L565.58,189.00 L566.18,189.39 L566.80,189.76 L567.44,190.11 L568.08,190.44 L568.73,190.74 L569.37,191.03 L570.00,191.30 L570.62,191.54 L571.25,191.77 L571.88,191.97 L572.50,192.15 L573.12,192.31 L573.75,192.46 L574.38,192.59 L575.00,192.70 L575.62,192.80 L576.23,192.88 L576.83,192.95 L577.44,193.00 L578.05,193.03 L578.68,193.04 L579.33,193.03 L580.00,193.00 L580.70,192.94 L581.43,192.86 L582.18,192.76 L582.94,192.63 L583.71,192.49 L584.48,192.34 L585.24,192.17 L586.00,192.00 L586.74,191.81 L587.48,191.61 L588.21,191.39 L588.94,191.16 L589.68,190.92 L590.43,190.68 L591.20,190.44 L592.00,190.20 L592.82,189.96 L593.66,189.70 L594.51,189.44 L595.38,189.18 L596.26,188.92 L597.16,188.67 L598.07,188.43 L599.00,188.20 L599.95,187.98 L600.93,187.77 L601.93,187.57 L602.94,187.37 L603.96,187.18 L604.98,187.01 L605.99,186.85 L607.00,186.70 L607.99,186.57 L608.95,186.46 L609.91,186.35 L610.88,186.27 L611.85,186.19 L612.86,186.12 L613.90,186.06 L615.00,186.00 L615.85,185.95 L616.33,185.92 L616.67,185.90 L617.12,185.88 L617.94,185.87 L619.36,185.87 L621.63,185.86 L625.00,185.85 L630.01,185.84 L636.67,185.83 L644.40,185.82 L652.62,185.82 L660.77,185.81 L668.27,185.81 L674.53,185.80 L679.00,185.80" fill="none" stroke="#000000" stroke-width="1.8" stroke-linejoin="round" stroke-linecap="round" clip-path="url(#c3)"/>
<path d="M519.50,75.80 L519.62,75.84 L519.77,75.88 L519.95,75.94 L520.16,76.00 L520.37,76.08 L520.59,76.17 L520.80,76.27 L521.00,76.40 L521.19,76.54 L521.38,76.70 L521.56,76.88 L521.75,77.07 L521.94,77.28 L522.12,77.50 L522.31,77.74 L522.50,78.00 L522.69,78.28 L522.88,78.57 L523.06,78.89 L523.25,79.22 L523.44,79.57 L523.62,79.93 L523.81,80.31 L524.00,80.70 L524.19,81.11 L524.38,81.53 L524.56,81.97 L524.75,82.43 L524.94,82.90 L525.12,83.39 L525.31,83.89 L525.50,84.40 L525.69,84.93 L525.88,85.47 L526.06,86.02 L526.25,86.59 L526.44,87.17 L526.62,87.77 L526.81,88.38 L527.00,89.00 L527.19,89.64 L527.38,90.30 L527.56,90.97 L527.75,91.66 L527.94,92.36 L528.12,93.07 L528.31,93.78 L528.50,94.50 L528.69,95.22 L528.87,95.95 L529.05,96.68 L529.24,97.42 L529.42,98.17 L529.61,98.93 L529.80,99.71 L530.00,100.50 L530.20,101.31 L530.41,102.14 L530.62,102.98 L530.83,103.84 L531.05,104.70 L531.26,105.57 L531.48,106.43 L531.70,107.30 L531.92,108.16 L532.14,109.02 L532.36,109.88 L532.58,110.74 L532.81,111.61 L533.03,112.50 L533.26,113.39 L533.50,114.30 L533.74,115.23 L533.99,116.17 L534.24,117.13 L534.49,118.10 L534.74,119.07 L535.00,120.05 L535.25,121.03 L535.50,122.00 L535.75,122.97 L536.00,123.95 L536.25,124.92 L536.50,125.90 L536.75,126.88 L537.00,127.85 L537.25,128.83 L537.50,129.80 L537.75,130.77 L538.00,131.74 L538.25,132.70 L538.50,133.67 L538.75,134.63 L539.00,135.59 L539.25,136.55 L539.50,137.50 L539.75,138.45 L540.00,139.40 L540.25,140.35 L540.50,141.29 L540.75,142.23 L541.00,143.16 L541.25,144.09 L541.50,145.00 L541.75,145.91 L542.00,146.81 L542.25,147.71 L542.50,148.59 L542.75,149.47 L543.00,150.33 L543.25,151.18 L543.50,152.00 L543.75,152.79 L543.99,153.56 L544.23,154.30 L544.47,155.03 L544.71,155.76 L544.96,156.49 L545.23,157.23 L545.50,158.00 L545.79,158.79 L546.08,159.59 L546.38,160.40 L546.69,161.22 L547.00,162.04 L547.33,162.86 L547.66,163.68 L548.00,164.50 L548.35,165.31 L548.70,166.12 L549.07,166.94 L549.44,167.75 L549.82,168.56 L550.20,169.38 L550.60,170.19 L551.00,171.00 L551.41,171.82 L551.83,172.64 L552.25,173.46 L552.69,174.28 L553.13,175.10 L553.58,175.91 L554.04,176.71 L554.50,177.50 L554.97,178.28 L555.45,179.06 L555.94,179.83 L556.44,180.59 L556.94,181.35 L557.45,182.08 L557.97,182.80 L558.50,183.50 L559.04,184.19 L559.58,184.86 L560.13,185.53 L560.69,186.17 L561.25,186.80 L561.83,187.40 L562.41,187.97 L563.00,188.50 L563.60,189.00 L564.21,189.47 L564.84,189.91 L565.47,190.32 L566.10,190.70 L566.74,191.06 L567.37,191.39 L568.00,191.70 L568.62,191.98 L569.25,192.22 L569.88,192.44 L570.50,192.63 L571.12,192.80 L571.75,192.95 L572.38,193.08 L573.00,193.20 L573.62,193.30 L574.24,193.39 L574.85,193.45 L575.47,193.50 L576.09,193.53 L576.71,193.54 L577.35,193.53 L578.00,193.50 L578.66,193.45 L579.33,193.38 L580.00,193.29 L580.69,193.18 L581.38,193.06 L582.08,192.92 L582.79,192.76 L583.50,192.60 L584.22,192.42 L584.95,192.22 L585.69,192.00 L586.44,191.76 L587.19,191.52 L587.95,191.28 L588.72,191.04 L589.50,190.80 L590.28,190.57 L591.05,190.33 L591.83,190.09 L592.62,189.85 L593.43,189.61 L594.26,189.37 L595.11,189.13 L596.00,188.90 L596.93,188.66 L597.89,188.42 L598.89,188.18 L599.91,187.94 L600.93,187.71 L601.96,187.49 L602.99,187.29 L604.00,187.10 L605.00,186.93 L606.00,186.78 L607.00,186.63 L608.00,186.50 L609.00,186.38 L610.00,186.27 L611.00,186.18 L612.00,186.10 L612.99,186.04 L613.95,185.99 L614.91,185.96 L615.88,185.94 L616.85,185.93 L617.86,185.92 L618.90,185.91 L620.00,185.90 L620.89,185.88 L621.45,185.87 L621.89,185.85 L622.44,185.84 L623.31,185.83 L624.71,185.82 L626.87,185.81 L630.00,185.80 L634.59,185.80 L640.66,185.79 L647.67,185.79 L655.12,185.79 L662.50,185.80 L669.28,185.80 L674.95,185.80 L679.00,185.80" fill="none" stroke="#000000" stroke-width="1.8" stroke-linejoin="round" stroke-linecap="round" clip-path="url(#c3)"/>
<path d="M519.50,70.50 L519.62,70.53 L519.77,70.57 L519.95,70.61 L520.16,70.66 L520.37,70.72 L520.59,70.80 L520.80,70.89 L521.00,71.00 L521.19,71.13 L521.38,71.27 L521.56,71.42 L521.75,71.59 L521.94,71.77 L522.12,71.97 L522.31,72.18 L522.50,72.40 L522.69,72.64 L522.88,72.89 L523.06,73.15 L523.25,73.43 L523.44,73.72 L523.62,74.03 L523.81,74.36 L524.00,74.70 L524.19,75.06 L524.38,75.43 L524.56,75.82 L524.75,76.22 L524.94,76.65 L525.12,77.08 L525.31,77.53 L525.50,78.00 L525.69,78.48 L525.88,78.98 L526.06,79.50 L526.25,80.03 L526.44,80.58 L526.62,81.14 L526.81,81.71 L527.00,82.30 L527.19,82.90 L527.38,83.52 L527.56,84.15 L527.75,84.79 L527.94,85.45 L528.12,86.12 L528.31,86.81 L528.50,87.50 L528.69,88.21 L528.88,88.93 L529.06,89.67 L529.25,90.42 L529.44,91.18 L529.62,91.95 L529.81,92.72 L530.00,93.50 L530.19,94.29 L530.38,95.09 L530.56,95.90 L530.75,96.72 L530.94,97.54 L531.12,98.36 L531.31,99.18 L531.50,100.00 L531.68,100.80 L531.86,101.59 L532.04,102.37 L532.22,103.16 L532.40,103.95 L532.59,104.77 L532.79,105.62 L533.00,106.50 L533.23,107.43 L533.46,108.39 L533.71,109.39 L533.97,110.41 L534.23,111.43 L534.49,112.46 L534.75,113.49 L535.00,114.50 L535.25,115.50 L535.50,116.50 L535.75,117.50 L536.00,118.50 L536.25,119.50 L536.50,120.50 L536.75,121.50 L537.00,122.50 L537.25,123.50 L537.50,124.50 L537.75,125.50 L538.00,126.50 L538.25,127.50 L538.50,128.50 L538.75,129.50 L539.00,130.50 L539.25,131.50 L539.50,132.50 L539.75,133.50 L540.00,134.50 L540.25,135.50 L540.50,136.50 L540.75,137.50 L541.00,138.50 L541.25,139.51 L541.50,140.52 L541.75,141.54 L542.00,142.56 L542.25,143.57 L542.50,144.57 L542.75,145.55 L543.00,146.50 L543.25,147.43 L543.50,148.34 L543.75,149.24 L544.00,150.12 L544.25,150.99 L544.50,151.84 L544.75,152.68 L545.00,153.50 L545.25,154.29 L545.49,155.06 L545.73,155.80 L545.97,156.53 L546.21,157.26 L546.46,157.99 L546.73,158.73 L547.00,159.50 L547.29,160.29 L547.58,161.09 L547.88,161.90 L548.19,162.72 L548.50,163.54 L548.83,164.36 L549.16,165.18 L549.50,166.00 L549.85,166.81 L550.20,167.61 L550.57,168.42 L550.94,169.22 L551.32,170.03 L551.70,170.84 L552.10,171.66 L552.50,172.50 L552.91,173.36 L553.33,174.24 L553.75,175.13 L554.19,176.03 L554.63,176.93 L555.08,177.81 L555.54,178.67 L556.00,179.50 L556.47,180.30 L556.95,181.09 L557.44,181.87 L557.94,182.62 L558.44,183.37 L558.95,184.09 L559.47,184.80 L560.00,185.50 L560.54,186.19 L561.09,186.88 L561.65,187.56 L562.22,188.22 L562.79,188.85 L563.36,189.45 L563.93,190.00 L564.50,190.50 L565.06,190.94 L565.61,191.33 L566.17,191.68 L566.72,191.99 L567.28,192.27 L567.84,192.53 L568.41,192.77 L569.00,193.00 L569.61,193.22 L570.24,193.42 L570.88,193.60 L571.53,193.76 L572.18,193.90 L572.81,194.01 L573.42,194.12 L574.00,194.20 L574.54,194.26 L575.05,194.31 L575.53,194.33 L576.00,194.34 L576.47,194.33 L576.95,194.30 L577.46,194.26 L578.00,194.20 L578.57,194.13 L579.16,194.04 L579.76,193.94 L580.38,193.82 L581.01,193.69 L581.66,193.54 L582.32,193.38 L583.00,193.20 L583.70,193.00 L584.42,192.77 L585.15,192.52 L585.91,192.26 L586.67,191.99 L587.44,191.72 L588.22,191.45 L589.00,191.20 L589.77,190.96 L590.54,190.72 L591.31,190.48 L592.09,190.25 L592.89,190.02 L593.72,189.78 L594.59,189.54 L595.50,189.30 L596.47,189.05 L597.50,188.79 L598.56,188.52 L599.66,188.25 L600.76,187.99 L601.86,187.74 L602.95,187.51 L604.00,187.30 L605.02,187.11 L606.04,186.94 L607.04,186.79 L608.03,186.64 L609.02,186.51 L610.01,186.40 L611.00,186.29 L612.00,186.20 L612.99,186.12 L613.95,186.06 L614.91,186.02 L615.88,185.99 L616.85,185.96 L617.86,185.94 L618.90,185.92 L620.00,185.90 L620.89,185.88 L621.45,185.86 L621.89,185.84 L622.44,185.83 L623.31,185.82 L624.71,185.81 L626.87,185.81 L630.00,185.80 L634.59,185.80 L640.66,185.79 L647.67,185.79 L655.12,185.79 L662.50,185.80 L669.28,185.80 L674.95,185.80 L679.00,185.80" fill="none" stroke="#000000" stroke-width="1.8" stroke-linejoin="round" stroke-linecap="round" clip-path="url(#c3)"/>
<path d="M519.50,44.20 L519.62,44.24 L519.77,44.29 L519.95,44.35 L520.16,44.42 L520.37,44.50 L520.59,44.61 L520.80,44.74 L521.00,44.90 L521.19,45.08 L521.38,45.27 L521.56,45.48 L521.75,45.71 L521.94,45.98 L522.12,46.27 L522.31,46.61 L522.50,47.00 L522.69,47.44 L522.88,47.92 L523.07,48.45 L523.26,49.01 L523.44,49.60 L523.63,50.21 L523.82,50.85 L524.00,51.50 L524.18,52.17 L524.36,52.87 L524.53,53.60 L524.71,54.34 L524.88,55.11 L525.05,55.89 L525.23,56.69 L525.40,57.50 L525.58,58.33 L525.75,59.19 L525.93,60.07 L526.11,60.97 L526.29,61.87 L526.46,62.76 L526.63,63.64 L526.80,64.50 L526.96,65.34 L527.12,66.18 L527.27,67.02 L527.42,67.84 L527.57,68.66 L527.72,69.46 L527.86,70.24 L528.00,71.00 L528.13,71.72 L528.26,72.40 L528.38,73.05 L528.49,73.69 L528.61,74.33 L528.73,75.01 L528.86,75.72 L529.00,76.50 L529.15,77.35 L529.31,78.25 L529.48,79.19 L529.65,80.16 L529.82,81.14 L529.99,82.11 L530.15,83.07 L530.30,84.00 L530.44,84.90 L530.57,85.77 L530.70,86.64 L530.82,87.50 L530.94,88.36 L531.06,89.23 L531.18,90.10 L531.30,91.00 L531.42,91.91 L531.55,92.83 L531.67,93.75 L531.79,94.69 L531.91,95.63 L532.04,96.58 L532.17,97.54 L532.30,98.50 L532.44,99.47 L532.58,100.45 L532.72,101.44 L532.87,102.44 L533.02,103.44 L533.17,104.45 L533.33,105.47 L533.50,106.50 L533.67,107.54 L533.85,108.58 L534.03,109.63 L534.21,110.69 L534.40,111.75 L534.60,112.83 L534.80,113.91 L535.00,115.00 L535.21,116.10 L535.42,117.21 L535.64,118.34 L535.87,119.47 L536.10,120.60 L536.33,121.74 L536.56,122.87 L536.80,124.00 L537.04,125.12 L537.29,126.25 L537.54,127.38 L537.79,128.50 L538.04,129.62 L538.30,130.75 L538.55,131.88 L538.80,133.00 L539.05,134.13 L539.31,135.27 L539.56,136.42 L539.82,137.56 L540.07,138.70 L540.32,139.82 L540.56,140.92 L540.80,142.00 L541.03,143.05 L541.26,144.07 L541.48,145.07 L541.69,146.06 L541.90,147.04 L542.11,148.02 L542.31,149.01 L542.50,150.00 L542.68,151.01 L542.85,152.02 L543.01,153.04 L543.17,154.06 L543.32,155.07 L543.48,156.07 L543.64,157.05 L543.80,158.00 L543.97,158.93 L544.13,159.83 L544.30,160.72 L544.47,161.59 L544.64,162.46 L544.82,163.31 L545.01,164.16 L545.20,165.00 L545.40,165.84 L545.61,166.67 L545.82,167.50 L546.04,168.31 L546.27,169.12 L546.51,169.92 L546.75,170.71 L547.00,171.50 L547.26,172.27 L547.54,173.02 L547.82,173.76 L548.11,174.50 L548.40,175.24 L548.70,175.98 L549.00,176.73 L549.30,177.50 L549.60,178.29 L549.89,179.08 L550.19,179.89 L550.49,180.70 L550.80,181.52 L551.12,182.34 L551.45,183.17 L551.80,184.00 L552.16,184.85 L552.53,185.72 L552.91,186.60 L553.31,187.48 L553.71,188.35 L554.13,189.21 L554.56,190.02 L555.00,190.80 L555.46,191.54 L555.94,192.26 L556.43,192.96 L556.93,193.63 L557.44,194.27 L557.96,194.89 L558.48,195.46 L559.00,196.00 L559.53,196.50 L560.07,196.98 L560.62,197.42 L561.17,197.82 L561.72,198.20 L562.26,198.54 L562.79,198.84 L563.30,199.10 L563.79,199.32 L564.25,199.49 L564.70,199.63 L565.14,199.72 L565.58,199.80 L566.03,199.85 L566.50,199.88 L567.00,199.90 L567.52,199.91 L568.05,199.91 L568.58,199.88 L569.14,199.84 L569.70,199.77 L570.29,199.68 L570.88,199.55 L571.50,199.40 L572.14,199.21 L572.79,199.00 L573.47,198.75 L574.16,198.48 L574.86,198.19 L575.57,197.87 L576.28,197.54 L577.00,197.20 L577.71,196.84 L578.42,196.45 L579.13,196.05 L579.84,195.62 L580.58,195.19 L581.35,194.73 L582.15,194.27 L583.00,193.80 L583.91,193.30 L584.88,192.76 L585.90,192.20 L586.94,191.63 L587.99,191.07 L589.02,190.54 L590.03,190.04 L591.00,189.60 L591.91,189.21 L592.77,188.87 L593.61,188.55 L594.44,188.27 L595.27,188.01 L596.13,187.76 L597.04,187.53 L598.00,187.30 L599.03,187.08 L600.11,186.88 L601.23,186.69 L602.38,186.52 L603.54,186.36 L604.70,186.22 L605.86,186.10 L607.00,186.00 L608.09,185.93 L609.13,185.88 L610.16,185.86 L611.19,185.85 L612.26,185.85 L613.40,185.85 L614.64,185.86 L616.00,185.85 L617.27,185.84 L618.33,185.83 L619.35,185.82 L620.50,185.82 L621.97,185.81 L623.92,185.81 L626.54,185.80 L630.00,185.80 L634.79,185.80 L640.94,185.80 L647.96,185.80 L655.38,185.80 L662.68,185.80 L669.38,185.80 L674.98,185.80 L679.00,185.80" fill="none" stroke="#000000" stroke-width="1.8" stroke-linejoin="round" stroke-linecap="round" clip-path="url(#c3)"/>
<rect x="51.15" y="34.5" width="145.40" height="170.05" fill="none" stroke="#262626" stroke-width="0.55"/>
<line x1="99.62" y1="204.55" x2="99.62" y2="202.75" stroke="#262626" stroke-width="0.55"/>
<line x1="99.62" y1="34.5" x2="99.62" y2="36.30" stroke="#262626" stroke-width="0.55"/>
<line x1="148.08" y1="204.55" x2="148.08" y2="202.75" stroke="#262626" stroke-width="0.55"/>
<line x1="148.08" y1="34.5" x2="148.08" y2="36.30" stroke="#262626" stroke-width="0.55"/>
<line x1="51.15" y1="176.15" x2="52.95" y2="176.15" stroke="#262626" stroke-width="0.55"/>
<line x1="196.55" y1="176.15" x2="194.75" y2="176.15" stroke="#262626" stroke-width="0.55"/>
<line x1="51.15" y1="147.75" x2="52.95" y2="147.75" stroke="#262626" stroke-width="0.55"/>
<line x1="196.55" y1="147.75" x2="194.75" y2="147.75" stroke="#262626" stroke-width="0.55"/>
<line x1="51.15" y1="119.35" x2="52.95" y2="119.35" stroke="#262626" stroke-width="0.55"/>
<line x1="196.55" y1="119.35" x2="194.75" y2="119.35" stroke="#262626" stroke-width="0.55"/>
<line x1="51.15" y1="90.95" x2="52.95" y2="90.95" stroke="#262626" stroke-width="0.55"/>
<line x1="196.55" y1="90.95" x2="194.75" y2="90.95" stroke="#262626" stroke-width="0.55"/>
<line x1="51.15" y1="62.55" x2="52.95" y2="62.55" stroke="#262626" stroke-width="0.55"/>
<line x1="196.55" y1="62.55" x2="194.75" y2="62.55" stroke="#262626" stroke-width="0.55"/>
<rect x="284.1" y="36.45" width="136.30" height="164.90" fill="none" stroke="#262626" stroke-width="0.55"/>
<line x1="297.73" y1="201.35" x2="297.73" y2="199.55" stroke="#262626" stroke-width="0.55"/>
<line x1="297.73" y1="36.45" x2="297.73" y2="38.25" stroke="#262626" stroke-width="0.55"/>
<line x1="311.36" y1="201.35" x2="311.36" y2="199.55" stroke="#262626" stroke-width="0.55"/>
<line x1="311.36" y1="36.45" x2="311.36" y2="38.25" stroke="#262626" stroke-width="0.55"/>
<line x1="324.99" y1="201.35" x2="324.99" y2="199.55" stroke="#262626" stroke-width="0.55"/>
<line x1="324.99" y1="36.45" x2="324.99" y2="38.25" stroke="#262626" stroke-width="0.55"/>
<line x1="338.62" y1="201.35" x2="338.62" y2="199.55" stroke="#262626" stroke-width="0.55"/>
<line x1="338.62" y1="36.45" x2="338.62" y2="38.25" stroke="#262626" stroke-width="0.55"/>
<line x1="352.25" y1="201.35" x2="352.25" y2="199.55" stroke="#262626" stroke-width="0.55"/>
<line x1="352.25" y1="36.45" x2="352.25" y2="38.25" stroke="#262626" stroke-width="0.55"/>
<line x1="365.88" y1="201.35" x2="365.88" y2="199.55" stroke="#262626" stroke-width="0.55"/>
<line x1="365.88" y1="36.45" x2="365.88" y2="38.25" stroke="#262626" stroke-width="0.55"/>
<line x1="379.51" y1="201.35" x2="379.51" y2="199.55" stroke="#262626" stroke-width="0.55"/>
<line x1="379.51" y1="36.45" x2="379.51" y2="38.25" stroke="#262626" stroke-width="0.55"/>
<line x1="393.14" y1="201.35" x2="393.14" y2="199.55" stroke="#262626" stroke-width="0.55"/>
<line x1="393.14" y1="36.45" x2="393.14" y2="38.25" stroke="#262626" stroke-width="0.55"/>
<line x1="406.77" y1="201.35" x2="406.77" y2="199.55" stroke="#262626" stroke-width="0.55"/>
<line x1="406.77" y1="36.45" x2="406.77" y2="38.25" stroke="#262626" stroke-width="0.55"/>
<line x1="284.1" y1="63.50" x2="285.90" y2="63.50" stroke="#262626" stroke-width="0.55"/>
<line x1="420.4" y1="63.50" x2="418.60" y2="63.50" stroke="#262626" stroke-width="0.55"/>
<line x1="284.1" y1="91.06" x2="285.90" y2="91.06" stroke="#262626" stroke-width="0.55"/>
<line x1="420.4" y1="91.06" x2="418.60" y2="91.06" stroke="#262626" stroke-width="0.55"/>
<line x1="284.1" y1="118.62" x2="285.90" y2="118.62" stroke="#262626" stroke-width="0.55"/>
<line x1="420.4" y1="118.62" x2="418.60" y2="118.62" stroke="#262626" stroke-width="0.55"/>
<line x1="284.1" y1="146.18" x2="285.90" y2="146.18" stroke="#262626" stroke-width="0.55"/>
<line x1="420.4" y1="146.18" x2="418.60" y2="146.18" stroke="#262626" stroke-width="0.55"/>
<line x1="284.1" y1="173.74" x2="285.90" y2="173.74" stroke="#262626" stroke-width="0.55"/>
<line x1="420.4" y1="173.74" x2="418.60" y2="173.74" stroke="#262626" stroke-width="0.55"/>
<rect x="519.25" y="34.5" width="159.65" height="170.05" fill="none" stroke="#262626" stroke-width="0.55"/>
<line x1="572.47" y1="204.55" x2="572.47" y2="202.75" stroke="#262626" stroke-width="0.55"/>
<line x1="572.47" y1="34.5" x2="572.47" y2="36.30" stroke="#262626" stroke-width="0.55"/>
<line x1="625.68" y1="204.55" x2="625.68" y2="202.75" stroke="#262626" stroke-width="0.55"/>
<line x1="625.68" y1="34.5" x2="625.68" y2="36.30" stroke="#262626" stroke-width="0.55"/>
<line x1="519.25" y1="185.66" x2="521.05" y2="185.66" stroke="#262626" stroke-width="0.55"/>
<line x1="678.9" y1="185.66" x2="677.10" y2="185.66" stroke="#262626" stroke-width="0.55"/>
<line x1="519.25" y1="147.87" x2="521.05" y2="147.87" stroke="#262626" stroke-width="0.55"/>
<line x1="678.9" y1="147.87" x2="677.10" y2="147.87" stroke="#262626" stroke-width="0.55"/>
<line x1="519.25" y1="110.08" x2="521.05" y2="110.08" stroke="#262626" stroke-width="0.55"/>
<line x1="678.9" y1="110.08" x2="677.10" y2="110.08" stroke="#262626" stroke-width="0.55"/>
<line x1="519.25" y1="72.29" x2="521.05" y2="72.29" stroke="#262626" stroke-width="0.55"/>
<line x1="678.9" y1="72.29" x2="677.10" y2="72.29" stroke="#262626" stroke-width="0.55"/>
</svg>
</div></body></html>
